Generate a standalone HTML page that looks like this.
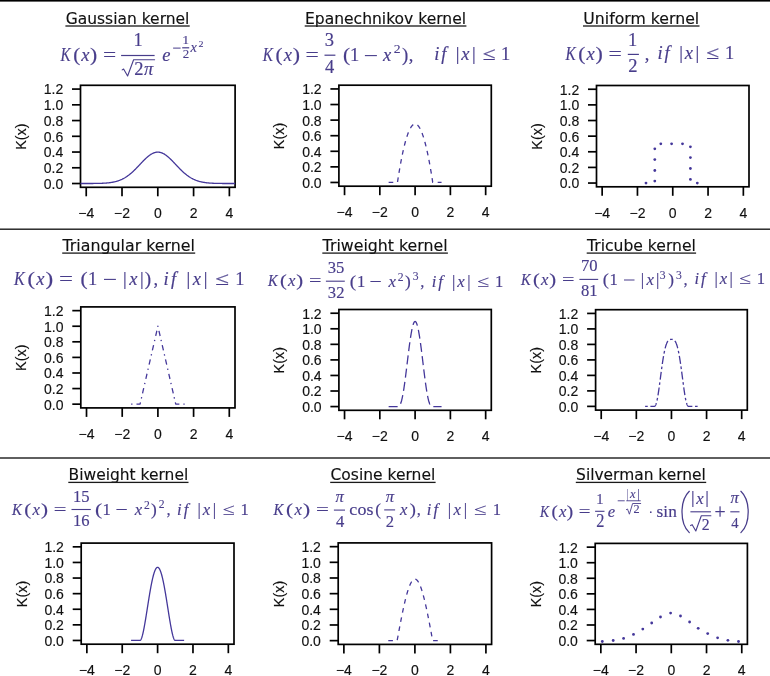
<!DOCTYPE html>
<html><head><meta charset="utf-8"><style>
html,body{margin:0;padding:0;background:#fff;}
body{width:770px;height:676px;overflow:hidden;position:relative;}
.tl{font-family:"Liberation Sans",Arial,sans-serif;font-size:14px;fill:#111;stroke:#111;stroke-width:0.15px;}
.yl{font-size:14.4px;}
.tt{font-family:"DejaVu Sans","Liberation Sans",sans-serif;font-size:16.2px;fill:#111;stroke:#111;stroke-width:0.15px;}
</style></head><body>
<svg width="770" height="676" viewBox="0 0 770 676" style="position:absolute;left:0;top:0">
<defs>
<clipPath id="c0"><rect x="80.50" y="85.30" width="154.60" height="102.00"/></clipPath>
<clipPath id="c1"><rect x="338.90" y="85.20" width="152.40" height="101.00"/></clipPath>
<clipPath id="c2"><rect x="596.50" y="85.50" width="152.50" height="101.30"/></clipPath>
<clipPath id="c3"><rect x="80.80" y="306.90" width="154.20" height="101.00"/></clipPath>
<clipPath id="c4"><rect x="338.90" y="309.50" width="152.40" height="100.80"/></clipPath>
<clipPath id="c5"><rect x="595.60" y="309.70" width="151.70" height="100.40"/></clipPath>
<clipPath id="c6"><rect x="81.20" y="543.10" width="152.80" height="101.10"/></clipPath>
<clipPath id="c7"><rect x="338.20" y="542.90" width="153.40" height="101.50"/></clipPath>
<clipPath id="c8"><rect x="595.20" y="543.40" width="152.20" height="100.90"/></clipPath>
</defs>
<rect x="0" y="0" width="770" height="1.6" fill="#000"/>
<rect x="0" y="228.5" width="770" height="1.4" fill="#1c1c1c"/>
<rect x="0" y="457.3" width="770" height="1.4" fill="#1c1c1c"/>
<g><rect x="80.50" y="85.30" width="154.60" height="102.00" fill="none" stroke="#000" stroke-width="1.7"/><line x1="72.00" y1="183.52" x2="80.50" y2="183.52" stroke="#000" stroke-width="1.7"/><text x="63.20" y="188.92" text-anchor="end" class="tl">0.0</text><line x1="72.00" y1="167.78" x2="80.50" y2="167.78" stroke="#000" stroke-width="1.7"/><text x="63.20" y="173.18" text-anchor="end" class="tl">0.2</text><line x1="72.00" y1="152.04" x2="80.50" y2="152.04" stroke="#000" stroke-width="1.7"/><text x="63.20" y="157.44" text-anchor="end" class="tl">0.4</text><line x1="72.00" y1="136.30" x2="80.50" y2="136.30" stroke="#000" stroke-width="1.7"/><text x="63.20" y="141.70" text-anchor="end" class="tl">0.6</text><line x1="72.00" y1="120.56" x2="80.50" y2="120.56" stroke="#000" stroke-width="1.7"/><text x="63.20" y="125.96" text-anchor="end" class="tl">0.8</text><line x1="72.00" y1="104.82" x2="80.50" y2="104.82" stroke="#000" stroke-width="1.7"/><text x="63.20" y="110.22" text-anchor="end" class="tl">1.0</text><line x1="72.00" y1="89.08" x2="80.50" y2="89.08" stroke="#000" stroke-width="1.7"/><text x="63.20" y="94.48" text-anchor="end" class="tl">1.2</text><line x1="86.23" y1="187.30" x2="86.23" y2="196.30" stroke="#000" stroke-width="1.7"/><text x="86.23" y="218.00" text-anchor="middle" class="tl">−4</text><line x1="122.01" y1="187.30" x2="122.01" y2="196.30" stroke="#000" stroke-width="1.7"/><text x="122.01" y="218.00" text-anchor="middle" class="tl">−2</text><line x1="157.80" y1="187.30" x2="157.80" y2="196.30" stroke="#000" stroke-width="1.7"/><text x="157.80" y="218.00" text-anchor="middle" class="tl">0</text><line x1="193.59" y1="187.30" x2="193.59" y2="196.30" stroke="#000" stroke-width="1.7"/><text x="193.59" y="218.00" text-anchor="middle" class="tl">2</text><line x1="229.37" y1="187.30" x2="229.37" y2="196.30" stroke="#000" stroke-width="1.7"/><text x="229.37" y="218.00" text-anchor="middle" class="tl">4</text><text transform="translate(26.00,136.60) rotate(-90)" text-anchor="middle" class="tl yl">K(x)</text><polyline clip-path="url(#c0)" points="75.49,183.52 75.90,183.52 76.31,183.52 76.72,183.52 77.14,183.52 77.55,183.52 77.96,183.52 78.37,183.52 78.78,183.52 79.19,183.52 79.61,183.52 80.02,183.52 80.43,183.52 80.84,183.52 81.25,183.52 81.66,183.52 82.07,183.52 82.49,183.52 82.90,183.52 83.31,183.52 83.72,183.52 84.13,183.52 84.54,183.52 84.96,183.51 85.37,183.51 85.78,183.51 86.19,183.51 86.60,183.51 87.01,183.51 87.42,183.51 87.84,183.51 88.25,183.51 88.66,183.50 89.07,183.50 89.48,183.50 89.89,183.50 90.31,183.50 90.72,183.49 91.13,183.49 91.54,183.49 91.95,183.49 92.36,183.48 92.77,183.48 93.19,183.48 93.60,183.47 94.01,183.47 94.42,183.46 94.83,183.46 95.24,183.45 95.66,183.45 96.07,183.44 96.48,183.43 96.89,183.43 97.30,183.42 97.71,183.41 98.13,183.40 98.54,183.39 98.95,183.38 99.36,183.37 99.77,183.36 100.18,183.35 100.59,183.33 101.01,183.32 101.42,183.30 101.83,183.29 102.24,183.27 102.65,183.25 103.06,183.23 103.48,183.21 103.89,183.19 104.30,183.16 104.71,183.14 105.12,183.11 105.53,183.08 105.94,183.05 106.36,183.02 106.77,182.98 107.18,182.95 107.59,182.91 108.00,182.87 108.41,182.83 108.83,182.78 109.24,182.73 109.65,182.68 110.06,182.63 110.47,182.57 110.88,182.51 111.29,182.45 111.71,182.38 112.12,182.32 112.53,182.24 112.94,182.17 113.35,182.09 113.76,182.00 114.18,181.91 114.59,181.82 115.00,181.73 115.41,181.62 115.82,181.52 116.23,181.41 116.64,181.29 117.06,181.17 117.47,181.05 117.88,180.92 118.29,180.78 118.70,180.64 119.11,180.49 119.53,180.34 119.94,180.18 120.35,180.01 120.76,179.84 121.17,179.66 121.58,179.47 122.00,179.28 122.41,179.08 122.82,178.88 123.23,178.67 123.64,178.45 124.05,178.22 124.46,177.99 124.88,177.74 125.29,177.50 125.70,177.24 126.11,176.98 126.52,176.71 126.93,176.43 127.35,176.15 127.76,175.85 128.17,175.55 128.58,175.25 128.99,174.93 129.40,174.61 129.81,174.28 130.23,173.94 130.64,173.60 131.05,173.25 131.46,172.90 131.87,172.53 132.28,172.16 132.70,171.79 133.11,171.41 133.52,171.02 133.93,170.63 134.34,170.23 134.75,169.82 135.16,169.42 135.58,169.00 135.99,168.59 136.40,168.17 136.81,167.74 137.22,167.31 137.63,166.88 138.05,166.45 138.46,166.02 138.87,165.58 139.28,165.14 139.69,164.71 140.10,164.27 140.51,163.83 140.93,163.39 141.34,162.96 141.75,162.52 142.16,162.09 142.57,161.66 142.98,161.24 143.40,160.81 143.81,160.40 144.22,159.98 144.63,159.57 145.04,159.17 145.45,158.78 145.87,158.39 146.28,158.00 146.69,157.63 147.10,157.26 147.51,156.91 147.92,156.56 148.33,156.22 148.75,155.90 149.16,155.58 149.57,155.28 149.98,154.98 150.39,154.70 150.80,154.43 151.22,154.18 151.63,153.94 152.04,153.71 152.45,153.50 152.86,153.30 153.27,153.11 153.68,152.94 154.10,152.79 154.51,152.65 154.92,152.53 155.33,152.42 155.74,152.33 156.15,152.26 156.57,152.20 156.98,152.16 157.39,152.13 157.80,152.12 158.21,152.13 158.62,152.16 159.03,152.20 159.45,152.26 159.86,152.33 160.27,152.42 160.68,152.53 161.09,152.65 161.50,152.79 161.92,152.94 162.33,153.11 162.74,153.30 163.15,153.50 163.56,153.71 163.97,153.94 164.38,154.18 164.80,154.43 165.21,154.70 165.62,154.98 166.03,155.28 166.44,155.58 166.85,155.90 167.27,156.22 167.68,156.56 168.09,156.91 168.50,157.26 168.91,157.63 169.32,158.00 169.73,158.39 170.15,158.78 170.56,159.17 170.97,159.57 171.38,159.98 171.79,160.40 172.20,160.81 172.62,161.24 173.03,161.66 173.44,162.09 173.85,162.52 174.26,162.96 174.67,163.39 175.09,163.83 175.50,164.27 175.91,164.71 176.32,165.14 176.73,165.58 177.14,166.02 177.55,166.45 177.97,166.88 178.38,167.31 178.79,167.74 179.20,168.17 179.61,168.59 180.02,169.00 180.44,169.42 180.85,169.82 181.26,170.23 181.67,170.63 182.08,171.02 182.49,171.41 182.90,171.79 183.32,172.16 183.73,172.53 184.14,172.90 184.55,173.25 184.96,173.60 185.37,173.94 185.79,174.28 186.20,174.61 186.61,174.93 187.02,175.25 187.43,175.55 187.84,175.85 188.25,176.15 188.67,176.43 189.08,176.71 189.49,176.98 189.90,177.24 190.31,177.50 190.72,177.74 191.14,177.99 191.55,178.22 191.96,178.45 192.37,178.67 192.78,178.88 193.19,179.08 193.60,179.28 194.02,179.47 194.43,179.66 194.84,179.84 195.25,180.01 195.66,180.18 196.07,180.34 196.49,180.49 196.90,180.64 197.31,180.78 197.72,180.92 198.13,181.05 198.54,181.17 198.96,181.29 199.37,181.41 199.78,181.52 200.19,181.62 200.60,181.73 201.01,181.82 201.42,181.91 201.84,182.00 202.25,182.09 202.66,182.17 203.07,182.24 203.48,182.32 203.89,182.38 204.31,182.45 204.72,182.51 205.13,182.57 205.54,182.63 205.95,182.68 206.36,182.73 206.77,182.78 207.19,182.83 207.60,182.87 208.01,182.91 208.42,182.95 208.83,182.98 209.24,183.02 209.66,183.05 210.07,183.08 210.48,183.11 210.89,183.14 211.30,183.16 211.71,183.19 212.12,183.21 212.54,183.23 212.95,183.25 213.36,183.27 213.77,183.29 214.18,183.30 214.59,183.32 215.01,183.33 215.42,183.35 215.83,183.36 216.24,183.37 216.65,183.38 217.06,183.39 217.47,183.40 217.89,183.41 218.30,183.42 218.71,183.43 219.12,183.43 219.53,183.44 219.94,183.45 220.36,183.45 220.77,183.46 221.18,183.46 221.59,183.47 222.00,183.47 222.41,183.48 222.83,183.48 223.24,183.48 223.65,183.49 224.06,183.49 224.47,183.49 224.88,183.49 225.29,183.50 225.71,183.50 226.12,183.50 226.53,183.50 226.94,183.50 227.35,183.51 227.76,183.51 228.18,183.51 228.59,183.51 229.00,183.51 229.41,183.51 229.82,183.51 230.23,183.51 230.64,183.51 231.06,183.52 231.47,183.52 231.88,183.52 232.29,183.52 232.70,183.52 233.11,183.52 233.53,183.52 233.94,183.52 234.35,183.52 234.76,183.52 235.17,183.52 235.58,183.52 235.99,183.52 236.41,183.52 236.82,183.52 237.23,183.52 237.64,183.52 238.05,183.52 238.46,183.52 238.88,183.52 239.29,183.52 239.70,183.52 240.11,183.52" fill="none" stroke="#44379A" stroke-width="1.3" stroke-linejoin="round"/></g>
<g><rect x="338.90" y="85.20" width="152.40" height="101.00" fill="none" stroke="#000" stroke-width="1.7"/><line x1="330.40" y1="182.46" x2="338.90" y2="182.46" stroke="#000" stroke-width="1.7"/><text x="321.60" y="187.86" text-anchor="end" class="tl">0.0</text><line x1="330.40" y1="166.87" x2="338.90" y2="166.87" stroke="#000" stroke-width="1.7"/><text x="321.60" y="172.27" text-anchor="end" class="tl">0.2</text><line x1="330.40" y1="151.29" x2="338.90" y2="151.29" stroke="#000" stroke-width="1.7"/><text x="321.60" y="156.69" text-anchor="end" class="tl">0.4</text><line x1="330.40" y1="135.70" x2="338.90" y2="135.70" stroke="#000" stroke-width="1.7"/><text x="321.60" y="141.10" text-anchor="end" class="tl">0.6</text><line x1="330.40" y1="120.11" x2="338.90" y2="120.11" stroke="#000" stroke-width="1.7"/><text x="321.60" y="125.51" text-anchor="end" class="tl">0.8</text><line x1="330.40" y1="104.53" x2="338.90" y2="104.53" stroke="#000" stroke-width="1.7"/><text x="321.60" y="109.93" text-anchor="end" class="tl">1.0</text><line x1="330.40" y1="88.94" x2="338.90" y2="88.94" stroke="#000" stroke-width="1.7"/><text x="321.60" y="94.34" text-anchor="end" class="tl">1.2</text><line x1="344.54" y1="186.20" x2="344.54" y2="195.20" stroke="#000" stroke-width="1.7"/><text x="344.54" y="216.90" text-anchor="middle" class="tl">−4</text><line x1="379.82" y1="186.20" x2="379.82" y2="195.20" stroke="#000" stroke-width="1.7"/><text x="379.82" y="216.90" text-anchor="middle" class="tl">−2</text><line x1="415.10" y1="186.20" x2="415.10" y2="195.20" stroke="#000" stroke-width="1.7"/><text x="415.10" y="216.90" text-anchor="middle" class="tl">0</text><line x1="450.38" y1="186.20" x2="450.38" y2="195.20" stroke="#000" stroke-width="1.7"/><text x="450.38" y="216.90" text-anchor="middle" class="tl">2</text><line x1="485.66" y1="186.20" x2="485.66" y2="195.20" stroke="#000" stroke-width="1.7"/><text x="485.66" y="216.90" text-anchor="middle" class="tl">4</text><text transform="translate(284.40,136.00) rotate(-90)" text-anchor="middle" class="tl yl">K(x)</text><polyline clip-path="url(#c1)" points="388.64,182.46 388.77,182.46 388.91,182.46 389.04,182.46 389.17,182.46 389.30,182.46 389.44,182.46 389.57,182.46 389.70,182.46 389.83,182.46 389.96,182.46 390.10,182.46 390.23,182.46 390.36,182.46 390.49,182.46 390.63,182.46 390.76,182.46 390.89,182.46 391.02,182.46 391.16,182.46 391.29,182.46 391.42,182.46 391.55,182.46 391.68,182.46 391.82,182.46 391.95,182.46 392.08,182.46 392.21,182.46 392.35,182.46 392.48,182.46 392.61,182.46 392.74,182.46 392.88,182.46 393.01,182.46 393.14,182.46 393.27,182.46 393.40,182.46 393.54,182.46 393.67,182.46 393.80,182.46 393.93,182.46 394.07,182.46 394.20,182.46 394.33,182.46 394.46,182.46 394.59,182.46 394.73,182.46 394.86,182.46 394.99,182.46 395.12,182.46 395.26,182.46 395.39,182.46 395.52,182.46 395.65,182.46 395.79,182.46 395.92,182.46 396.05,182.46 396.18,182.46 396.31,182.46 396.45,182.46 396.58,182.46 396.71,182.46 396.84,182.46 396.98,182.46 397.11,182.46 397.24,182.46 397.37,182.46 397.51,182.17 397.64,181.30 397.77,180.43 397.90,179.57 398.03,178.72 398.17,177.88 398.30,177.04 398.43,176.21 398.56,175.38 398.70,174.56 398.83,173.75 398.96,172.95 399.09,172.15 399.23,171.35 399.36,170.57 399.49,169.79 399.62,169.02 399.75,168.25 399.89,167.49 400.02,166.74 400.15,165.99 400.28,165.25 400.42,164.52 400.55,163.79 400.68,163.07 400.81,162.36 400.94,161.65 401.08,160.95 401.21,160.26 401.34,159.57 401.47,158.89 401.61,158.22 401.74,157.55 401.87,156.89 402.00,156.23 402.14,155.59 402.27,154.94 402.40,154.31 402.53,153.68 402.66,153.06 402.80,152.45 402.93,151.84 403.06,151.24 403.19,150.64 403.33,150.05 403.46,149.47 403.59,148.90 403.72,148.33 403.86,147.76 403.99,147.21 404.12,146.66 404.25,146.12 404.38,145.58 404.52,145.05 404.65,144.53 404.78,144.01 404.91,143.50 405.05,143.00 405.18,142.50 405.31,142.01 405.44,141.53 405.57,141.05 405.71,140.58 405.84,140.12 405.97,139.66 406.10,139.21 406.24,138.77 406.37,138.33 406.50,137.90 406.63,137.48 406.77,137.06 406.90,136.65 407.03,136.24 407.16,135.85 407.29,135.45 407.43,135.07 407.56,134.69 407.69,134.32 407.82,133.96 407.96,133.60 408.09,133.25 408.22,132.90 408.35,132.56 408.49,132.23 408.62,131.90 408.75,131.59 408.88,131.27 409.01,130.97 409.15,130.67 409.28,130.38 409.41,130.09 409.54,129.81 409.68,129.54 409.81,129.27 409.94,129.01 410.07,128.76 410.21,128.51 410.34,128.27 410.47,128.04 410.60,127.81 410.73,127.59 410.87,127.38 411.00,127.17 411.13,126.97 411.26,126.78 411.40,126.59 411.53,126.41 411.66,126.23 411.79,126.07 411.93,125.90 412.06,125.75 412.19,125.60 412.32,125.46 412.45,125.33 412.59,125.20 412.72,125.08 412.85,124.96 412.98,124.85 413.12,124.75 413.25,124.65 413.38,124.57 413.51,124.48 413.64,124.41 413.78,124.34 413.91,124.28 414.04,124.22 414.17,124.17 414.31,124.13 414.44,124.09 414.57,124.06 414.70,124.04 414.84,124.02 414.97,124.01 415.10,124.01 415.23,124.01 415.36,124.02 415.50,124.04 415.63,124.06 415.76,124.09 415.89,124.13 416.03,124.17 416.16,124.22 416.29,124.28 416.42,124.34 416.56,124.41 416.69,124.48 416.82,124.57 416.95,124.65 417.08,124.75 417.22,124.85 417.35,124.96 417.48,125.08 417.61,125.20 417.75,125.33 417.88,125.46 418.01,125.60 418.14,125.75 418.27,125.90 418.41,126.07 418.54,126.23 418.67,126.41 418.80,126.59 418.94,126.78 419.07,126.97 419.20,127.17 419.33,127.38 419.47,127.59 419.60,127.81 419.73,128.04 419.86,128.27 419.99,128.51 420.13,128.76 420.26,129.01 420.39,129.27 420.52,129.54 420.66,129.81 420.79,130.09 420.92,130.38 421.05,130.67 421.19,130.97 421.32,131.27 421.45,131.59 421.58,131.90 421.71,132.23 421.85,132.56 421.98,132.90 422.11,133.25 422.24,133.60 422.38,133.96 422.51,134.32 422.64,134.69 422.77,135.07 422.91,135.45 423.04,135.85 423.17,136.24 423.30,136.65 423.43,137.06 423.57,137.48 423.70,137.90 423.83,138.33 423.96,138.77 424.10,139.21 424.23,139.66 424.36,140.12 424.49,140.58 424.62,141.05 424.76,141.53 424.89,142.01 425.02,142.50 425.15,143.00 425.29,143.50 425.42,144.01 425.55,144.53 425.68,145.05 425.82,145.58 425.95,146.12 426.08,146.66 426.21,147.21 426.34,147.76 426.48,148.33 426.61,148.90 426.74,149.47 426.87,150.05 427.01,150.64 427.14,151.24 427.27,151.84 427.40,152.45 427.54,153.06 427.67,153.68 427.80,154.31 427.93,154.94 428.06,155.59 428.20,156.23 428.33,156.89 428.46,157.55 428.59,158.22 428.73,158.89 428.86,159.57 428.99,160.26 429.12,160.95 429.26,161.65 429.39,162.36 429.52,163.07 429.65,163.79 429.78,164.52 429.92,165.25 430.05,165.99 430.18,166.74 430.31,167.49 430.45,168.25 430.58,169.02 430.71,169.79 430.84,170.57 430.98,171.35 431.11,172.15 431.24,172.95 431.37,173.75 431.50,174.56 431.64,175.38 431.77,176.21 431.90,177.04 432.03,177.88 432.17,178.72 432.30,179.57 432.43,180.43 432.56,181.30 432.69,182.17 432.83,182.46 432.96,182.46 433.09,182.46 433.22,182.46 433.36,182.46 433.49,182.46 433.62,182.46 433.75,182.46 433.89,182.46 434.02,182.46 434.15,182.46 434.28,182.46 434.41,182.46 434.55,182.46 434.68,182.46 434.81,182.46 434.94,182.46 435.08,182.46 435.21,182.46 435.34,182.46 435.47,182.46 435.61,182.46 435.74,182.46 435.87,182.46 436.00,182.46 436.13,182.46 436.27,182.46 436.40,182.46 436.53,182.46 436.66,182.46 436.80,182.46 436.93,182.46 437.06,182.46 437.19,182.46 437.32,182.46 437.46,182.46 437.59,182.46 437.72,182.46 437.85,182.46 437.99,182.46 438.12,182.46 438.25,182.46 438.38,182.46 438.52,182.46 438.65,182.46 438.78,182.46 438.91,182.46 439.04,182.46 439.18,182.46 439.31,182.46 439.44,182.46 439.57,182.46 439.71,182.46 439.84,182.46 439.97,182.46 440.10,182.46 440.24,182.46 440.37,182.46 440.50,182.46 440.63,182.46 440.76,182.46 440.90,182.46 441.03,182.46 441.16,182.46 441.29,182.46 441.43,182.46 441.56,182.46" fill="none" stroke="#44379A" stroke-width="1.3" stroke-linejoin="round" stroke-dasharray="4.62 4.63"/></g>
<g><rect x="596.50" y="85.50" width="152.50" height="101.30" fill="none" stroke="#000" stroke-width="1.7"/><line x1="588.00" y1="183.05" x2="596.50" y2="183.05" stroke="#000" stroke-width="1.7"/><text x="579.20" y="188.45" text-anchor="end" class="tl">0.0</text><line x1="588.00" y1="167.42" x2="596.50" y2="167.42" stroke="#000" stroke-width="1.7"/><text x="579.20" y="172.82" text-anchor="end" class="tl">0.2</text><line x1="588.00" y1="151.78" x2="596.50" y2="151.78" stroke="#000" stroke-width="1.7"/><text x="579.20" y="157.18" text-anchor="end" class="tl">0.4</text><line x1="588.00" y1="136.15" x2="596.50" y2="136.15" stroke="#000" stroke-width="1.7"/><text x="579.20" y="141.55" text-anchor="end" class="tl">0.6</text><line x1="588.00" y1="120.52" x2="596.50" y2="120.52" stroke="#000" stroke-width="1.7"/><text x="579.20" y="125.92" text-anchor="end" class="tl">0.8</text><line x1="588.00" y1="104.88" x2="596.50" y2="104.88" stroke="#000" stroke-width="1.7"/><text x="579.20" y="110.28" text-anchor="end" class="tl">1.0</text><line x1="588.00" y1="89.25" x2="596.50" y2="89.25" stroke="#000" stroke-width="1.7"/><text x="579.20" y="94.65" text-anchor="end" class="tl">1.2</text><line x1="602.15" y1="186.80" x2="602.15" y2="195.80" stroke="#000" stroke-width="1.7"/><text x="602.15" y="217.50" text-anchor="middle" class="tl">−4</text><line x1="637.45" y1="186.80" x2="637.45" y2="195.80" stroke="#000" stroke-width="1.7"/><text x="637.45" y="217.50" text-anchor="middle" class="tl">−2</text><line x1="672.75" y1="186.80" x2="672.75" y2="195.80" stroke="#000" stroke-width="1.7"/><text x="672.75" y="217.50" text-anchor="middle" class="tl">0</text><line x1="708.05" y1="186.80" x2="708.05" y2="195.80" stroke="#000" stroke-width="1.7"/><text x="708.05" y="217.50" text-anchor="middle" class="tl">2</text><line x1="743.35" y1="186.80" x2="743.35" y2="195.80" stroke="#000" stroke-width="1.7"/><text x="743.35" y="217.50" text-anchor="middle" class="tl">4</text><text transform="translate(542.00,136.45) rotate(-90)" text-anchor="middle" class="tl yl">K(x)</text><circle cx="646.0" cy="183.1" r="1.4" fill="#44379A"/><circle cx="654.8" cy="181.1" r="1.4" fill="#44379A"/><circle cx="654.8" cy="170.5" r="1.4" fill="#44379A"/><circle cx="654.8" cy="159.6" r="1.4" fill="#44379A"/><circle cx="654.8" cy="148.8" r="1.4" fill="#44379A"/><circle cx="660.8" cy="143.8" r="1.4" fill="#44379A"/><circle cx="671.6" cy="143.8" r="1.4" fill="#44379A"/><circle cx="682.5" cy="143.8" r="1.4" fill="#44379A"/><circle cx="690.4" cy="146.8" r="1.4" fill="#44379A"/><circle cx="690.4" cy="157.6" r="1.4" fill="#44379A"/><circle cx="690.4" cy="168.5" r="1.4" fill="#44379A"/><circle cx="690.4" cy="179.4" r="1.4" fill="#44379A"/><circle cx="697.3" cy="183.1" r="1.4" fill="#44379A"/></g>
<g><rect x="80.80" y="306.90" width="154.20" height="101.00" fill="none" stroke="#000" stroke-width="1.7"/><line x1="72.30" y1="404.16" x2="80.80" y2="404.16" stroke="#000" stroke-width="1.7"/><text x="63.50" y="409.56" text-anchor="end" class="tl">0.0</text><line x1="72.30" y1="388.57" x2="80.80" y2="388.57" stroke="#000" stroke-width="1.7"/><text x="63.50" y="393.97" text-anchor="end" class="tl">0.2</text><line x1="72.30" y1="372.99" x2="80.80" y2="372.99" stroke="#000" stroke-width="1.7"/><text x="63.50" y="378.39" text-anchor="end" class="tl">0.4</text><line x1="72.30" y1="357.40" x2="80.80" y2="357.40" stroke="#000" stroke-width="1.7"/><text x="63.50" y="362.80" text-anchor="end" class="tl">0.6</text><line x1="72.30" y1="341.81" x2="80.80" y2="341.81" stroke="#000" stroke-width="1.7"/><text x="63.50" y="347.21" text-anchor="end" class="tl">0.8</text><line x1="72.30" y1="326.23" x2="80.80" y2="326.23" stroke="#000" stroke-width="1.7"/><text x="63.50" y="331.63" text-anchor="end" class="tl">1.0</text><line x1="72.30" y1="310.64" x2="80.80" y2="310.64" stroke="#000" stroke-width="1.7"/><text x="63.50" y="316.04" text-anchor="end" class="tl">1.2</text><line x1="86.51" y1="407.90" x2="86.51" y2="416.90" stroke="#000" stroke-width="1.7"/><text x="86.51" y="438.60" text-anchor="middle" class="tl">−4</text><line x1="122.21" y1="407.90" x2="122.21" y2="416.90" stroke="#000" stroke-width="1.7"/><text x="122.21" y="438.60" text-anchor="middle" class="tl">−2</text><line x1="157.90" y1="407.90" x2="157.90" y2="416.90" stroke="#000" stroke-width="1.7"/><text x="157.90" y="438.60" text-anchor="middle" class="tl">0</text><line x1="193.59" y1="407.90" x2="193.59" y2="416.90" stroke="#000" stroke-width="1.7"/><text x="193.59" y="438.60" text-anchor="middle" class="tl">2</text><line x1="229.29" y1="407.90" x2="229.29" y2="416.90" stroke="#000" stroke-width="1.7"/><text x="229.29" y="438.60" text-anchor="middle" class="tl">4</text><text transform="translate(26.30,357.70) rotate(-90)" text-anchor="middle" class="tl yl">K(x)</text><polyline clip-path="url(#c3)" points="131.13,404.16 131.26,404.16 131.40,404.16 131.53,404.16 131.66,404.16 131.80,404.16 131.93,404.16 132.07,404.16 132.20,404.16 132.33,404.16 132.47,404.16 132.60,404.16 132.74,404.16 132.87,404.16 133.00,404.16 133.14,404.16 133.27,404.16 133.40,404.16 133.54,404.16 133.67,404.16 133.81,404.16 133.94,404.16 134.07,404.16 134.21,404.16 134.34,404.16 134.48,404.16 134.61,404.16 134.74,404.16 134.88,404.16 135.01,404.16 135.14,404.16 135.28,404.16 135.41,404.16 135.55,404.16 135.68,404.16 135.81,404.16 135.95,404.16 136.08,404.16 136.22,404.16 136.35,404.16 136.48,404.16 136.62,404.16 136.75,404.16 136.88,404.16 137.02,404.16 137.15,404.16 137.29,404.16 137.42,404.16 137.55,404.16 137.69,404.16 137.82,404.16 137.96,404.16 138.09,404.16 138.22,404.16 138.36,404.16 138.49,404.16 138.62,404.16 138.76,404.16 138.89,404.16 139.03,404.16 139.16,404.16 139.29,404.16 139.43,404.16 139.56,404.16 139.70,404.16 139.83,404.16 139.96,404.16 140.10,403.96 140.23,403.38 140.37,402.80 140.50,402.21 140.63,401.63 140.77,401.04 140.90,400.46 141.03,399.87 141.17,399.29 141.30,398.70 141.44,398.12 141.57,397.54 141.70,396.95 141.84,396.37 141.97,395.78 142.11,395.20 142.24,394.61 142.37,394.03 142.51,393.44 142.64,392.86 142.77,392.27 142.91,391.69 143.04,391.11 143.18,390.52 143.31,389.94 143.44,389.35 143.58,388.77 143.71,388.18 143.85,387.60 143.98,387.01 144.11,386.43 144.25,385.85 144.38,385.26 144.51,384.68 144.65,384.09 144.78,383.51 144.92,382.92 145.05,382.34 145.18,381.75 145.32,381.17 145.45,380.58 145.59,380.00 145.72,379.42 145.85,378.83 145.99,378.25 146.12,377.66 146.25,377.08 146.39,376.49 146.52,375.91 146.66,375.32 146.79,374.74 146.92,374.16 147.06,373.57 147.19,372.99 147.33,372.40 147.46,371.82 147.59,371.23 147.73,370.65 147.86,370.06 147.99,369.48 148.13,368.89 148.26,368.31 148.40,367.73 148.53,367.14 148.66,366.56 148.80,365.97 148.93,365.39 149.07,364.80 149.20,364.22 149.33,363.63 149.47,363.05 149.60,362.47 149.73,361.88 149.87,361.30 150.00,360.71 150.14,360.13 150.27,359.54 150.40,358.96 150.54,358.37 150.67,357.79 150.81,357.21 150.94,356.62 151.07,356.04 151.21,355.45 151.34,354.87 151.47,354.28 151.61,353.70 151.74,353.11 151.88,352.53 152.01,351.94 152.14,351.36 152.28,350.78 152.41,350.19 152.55,349.61 152.68,349.02 152.81,348.44 152.95,347.85 153.08,347.27 153.22,346.68 153.35,346.10 153.48,345.52 153.62,344.93 153.75,344.35 153.88,343.76 154.02,343.18 154.15,342.59 154.29,342.01 154.42,341.42 154.55,340.84 154.69,340.25 154.82,339.67 154.96,339.09 155.09,338.50 155.22,337.92 155.36,337.33 155.49,336.75 155.62,336.16 155.76,335.58 155.89,334.99 156.03,334.41 156.16,333.83 156.29,333.24 156.43,332.66 156.56,332.07 156.70,331.49 156.83,330.90 156.96,330.32 157.10,329.73 157.23,329.15 157.36,328.57 157.50,327.98 157.63,327.40 157.77,326.81 157.90,326.23 158.03,326.81 158.17,327.40 158.30,327.98 158.44,328.57 158.57,329.15 158.70,329.73 158.84,330.32 158.97,330.90 159.10,331.49 159.24,332.07 159.37,332.66 159.51,333.24 159.64,333.83 159.77,334.41 159.91,334.99 160.04,335.58 160.18,336.16 160.31,336.75 160.44,337.33 160.58,337.92 160.71,338.50 160.84,339.09 160.98,339.67 161.11,340.25 161.25,340.84 161.38,341.42 161.51,342.01 161.65,342.59 161.78,343.18 161.92,343.76 162.05,344.35 162.18,344.93 162.32,345.52 162.45,346.10 162.58,346.68 162.72,347.27 162.85,347.85 162.99,348.44 163.12,349.02 163.25,349.61 163.39,350.19 163.52,350.78 163.66,351.36 163.79,351.94 163.92,352.53 164.06,353.11 164.19,353.70 164.32,354.28 164.46,354.87 164.59,355.45 164.73,356.04 164.86,356.62 164.99,357.21 165.13,357.79 165.26,358.37 165.40,358.96 165.53,359.54 165.66,360.13 165.80,360.71 165.93,361.30 166.07,361.88 166.20,362.47 166.33,363.05 166.47,363.63 166.60,364.22 166.73,364.80 166.87,365.39 167.00,365.97 167.14,366.56 167.27,367.14 167.40,367.73 167.54,368.31 167.67,368.89 167.81,369.48 167.94,370.06 168.07,370.65 168.21,371.23 168.34,371.82 168.47,372.40 168.61,372.99 168.74,373.57 168.88,374.16 169.01,374.74 169.14,375.32 169.28,375.91 169.41,376.49 169.55,377.08 169.68,377.66 169.81,378.25 169.95,378.83 170.08,379.42 170.21,380.00 170.35,380.58 170.48,381.17 170.62,381.75 170.75,382.34 170.88,382.92 171.02,383.51 171.15,384.09 171.29,384.68 171.42,385.26 171.55,385.85 171.69,386.43 171.82,387.01 171.95,387.60 172.09,388.18 172.22,388.77 172.36,389.35 172.49,389.94 172.62,390.52 172.76,391.11 172.89,391.69 173.03,392.27 173.16,392.86 173.29,393.44 173.43,394.03 173.56,394.61 173.69,395.20 173.83,395.78 173.96,396.37 174.10,396.95 174.23,397.54 174.36,398.12 174.50,398.70 174.63,399.29 174.77,399.87 174.90,400.46 175.03,401.04 175.17,401.63 175.30,402.21 175.43,402.80 175.57,403.38 175.70,403.96 175.84,404.16 175.97,404.16 176.10,404.16 176.24,404.16 176.37,404.16 176.51,404.16 176.64,404.16 176.77,404.16 176.91,404.16 177.04,404.16 177.18,404.16 177.31,404.16 177.44,404.16 177.58,404.16 177.71,404.16 177.84,404.16 177.98,404.16 178.11,404.16 178.25,404.16 178.38,404.16 178.51,404.16 178.65,404.16 178.78,404.16 178.92,404.16 179.05,404.16 179.18,404.16 179.32,404.16 179.45,404.16 179.58,404.16 179.72,404.16 179.85,404.16 179.99,404.16 180.12,404.16 180.25,404.16 180.39,404.16 180.52,404.16 180.66,404.16 180.79,404.16 180.92,404.16 181.06,404.16 181.19,404.16 181.32,404.16 181.46,404.16 181.59,404.16 181.73,404.16 181.86,404.16 181.99,404.16 182.13,404.16 182.26,404.16 182.40,404.16 182.53,404.16 182.66,404.16 182.80,404.16 182.93,404.16 183.06,404.16 183.20,404.16 183.33,404.16 183.47,404.16 183.60,404.16 183.73,404.16 183.87,404.16 184.00,404.16 184.14,404.16 184.27,404.16 184.40,404.16 184.54,404.16 184.67,404.16" fill="none" stroke="#44379A" stroke-width="1.3" stroke-linejoin="round" stroke-dasharray="1.336 4.008 5.344 4.008"/></g>
<g><rect x="338.90" y="309.50" width="152.40" height="100.80" fill="none" stroke="#000" stroke-width="1.7"/><line x1="330.40" y1="406.57" x2="338.90" y2="406.57" stroke="#000" stroke-width="1.7"/><text x="321.60" y="411.97" text-anchor="end" class="tl">0.0</text><line x1="330.40" y1="391.01" x2="338.90" y2="391.01" stroke="#000" stroke-width="1.7"/><text x="321.60" y="396.41" text-anchor="end" class="tl">0.2</text><line x1="330.40" y1="375.46" x2="338.90" y2="375.46" stroke="#000" stroke-width="1.7"/><text x="321.60" y="380.86" text-anchor="end" class="tl">0.4</text><line x1="330.40" y1="359.90" x2="338.90" y2="359.90" stroke="#000" stroke-width="1.7"/><text x="321.60" y="365.30" text-anchor="end" class="tl">0.6</text><line x1="330.40" y1="344.34" x2="338.90" y2="344.34" stroke="#000" stroke-width="1.7"/><text x="321.60" y="349.74" text-anchor="end" class="tl">0.8</text><line x1="330.40" y1="328.79" x2="338.90" y2="328.79" stroke="#000" stroke-width="1.7"/><text x="321.60" y="334.19" text-anchor="end" class="tl">1.0</text><line x1="330.40" y1="313.23" x2="338.90" y2="313.23" stroke="#000" stroke-width="1.7"/><text x="321.60" y="318.63" text-anchor="end" class="tl">1.2</text><line x1="344.54" y1="410.30" x2="344.54" y2="419.30" stroke="#000" stroke-width="1.7"/><text x="344.54" y="441.00" text-anchor="middle" class="tl">−4</text><line x1="379.82" y1="410.30" x2="379.82" y2="419.30" stroke="#000" stroke-width="1.7"/><text x="379.82" y="441.00" text-anchor="middle" class="tl">−2</text><line x1="415.10" y1="410.30" x2="415.10" y2="419.30" stroke="#000" stroke-width="1.7"/><text x="415.10" y="441.00" text-anchor="middle" class="tl">0</text><line x1="450.38" y1="410.30" x2="450.38" y2="419.30" stroke="#000" stroke-width="1.7"/><text x="450.38" y="441.00" text-anchor="middle" class="tl">2</text><line x1="485.66" y1="410.30" x2="485.66" y2="419.30" stroke="#000" stroke-width="1.7"/><text x="485.66" y="441.00" text-anchor="middle" class="tl">4</text><text transform="translate(284.40,360.20) rotate(-90)" text-anchor="middle" class="tl yl">K(x)</text><polyline clip-path="url(#c4)" points="388.64,406.57 388.77,406.57 388.91,406.57 389.04,406.57 389.17,406.57 389.30,406.57 389.44,406.57 389.57,406.57 389.70,406.57 389.83,406.57 389.96,406.57 390.10,406.57 390.23,406.57 390.36,406.57 390.49,406.57 390.63,406.57 390.76,406.57 390.89,406.57 391.02,406.57 391.16,406.57 391.29,406.57 391.42,406.57 391.55,406.57 391.68,406.57 391.82,406.57 391.95,406.57 392.08,406.57 392.21,406.57 392.35,406.57 392.48,406.57 392.61,406.57 392.74,406.57 392.88,406.57 393.01,406.57 393.14,406.57 393.27,406.57 393.40,406.57 393.54,406.57 393.67,406.57 393.80,406.57 393.93,406.57 394.07,406.57 394.20,406.57 394.33,406.57 394.46,406.57 394.59,406.57 394.73,406.57 394.86,406.57 394.99,406.57 395.12,406.57 395.26,406.57 395.39,406.57 395.52,406.57 395.65,406.57 395.79,406.57 395.92,406.57 396.05,406.57 396.18,406.57 396.31,406.57 396.45,406.57 396.58,406.57 396.71,406.57 396.84,406.57 396.98,406.57 397.11,406.57 397.24,406.57 397.37,406.57 397.51,406.57 397.64,406.57 397.77,406.56 397.90,406.56 398.03,406.54 398.17,406.53 398.30,406.50 398.43,406.46 398.56,406.42 398.70,406.36 398.83,406.29 398.96,406.20 399.09,406.10 399.23,405.98 399.36,405.85 399.49,405.70 399.62,405.53 399.75,405.34 399.89,405.14 400.02,404.91 400.15,404.66 400.28,404.40 400.42,404.11 400.55,403.80 400.68,403.46 400.81,403.11 400.94,402.73 401.08,402.33 401.21,401.90 401.34,401.46 401.47,400.99 401.61,400.50 401.74,399.98 401.87,399.44 402.00,398.88 402.14,398.30 402.27,397.69 402.40,397.06 402.53,396.41 402.66,395.74 402.80,395.05 402.93,394.33 403.06,393.60 403.19,392.84 403.33,392.07 403.46,391.27 403.59,390.46 403.72,389.62 403.86,388.77 403.99,387.91 404.12,387.02 404.25,386.12 404.38,385.20 404.52,384.27 404.65,383.32 404.78,382.36 404.91,381.38 405.05,380.39 405.18,379.39 405.31,378.38 405.44,377.36 405.57,376.32 405.71,375.28 405.84,374.23 405.97,373.17 406.10,372.11 406.24,371.04 406.37,369.96 406.50,368.88 406.63,367.79 406.77,366.70 406.90,365.61 407.03,364.51 407.16,363.42 407.29,362.32 407.43,361.23 407.56,360.13 407.69,359.04 407.82,357.95 407.96,356.87 408.09,355.79 408.22,354.71 408.35,353.64 408.49,352.58 408.62,351.52 408.75,350.47 408.88,349.43 409.01,348.40 409.15,347.38 409.28,346.37 409.41,345.38 409.54,344.39 409.68,343.42 409.81,342.46 409.94,341.52 410.07,340.59 410.21,339.68 410.34,338.78 410.47,337.90 410.60,337.04 410.73,336.19 410.87,335.37 411.00,334.56 411.13,333.77 411.26,333.01 411.40,332.26 411.53,331.54 411.66,330.84 411.79,330.16 411.93,329.50 412.06,328.87 412.19,328.26 412.32,327.67 412.45,327.11 412.59,326.58 412.72,326.06 412.85,325.58 412.98,325.12 413.12,324.69 413.25,324.28 413.38,323.90 413.51,323.55 413.64,323.22 413.78,322.92 413.91,322.65 414.04,322.41 414.17,322.20 414.31,322.01 414.44,321.86 414.57,321.73 414.70,321.63 414.84,321.55 414.97,321.51 415.10,321.50 415.23,321.51 415.36,321.55 415.50,321.63 415.63,321.73 415.76,321.86 415.89,322.01 416.03,322.20 416.16,322.41 416.29,322.65 416.42,322.92 416.56,323.22 416.69,323.55 416.82,323.90 416.95,324.28 417.08,324.69 417.22,325.12 417.35,325.58 417.48,326.06 417.61,326.58 417.75,327.11 417.88,327.67 418.01,328.26 418.14,328.87 418.27,329.50 418.41,330.16 418.54,330.84 418.67,331.54 418.80,332.26 418.94,333.01 419.07,333.77 419.20,334.56 419.33,335.37 419.47,336.19 419.60,337.04 419.73,337.90 419.86,338.78 419.99,339.68 420.13,340.59 420.26,341.52 420.39,342.46 420.52,343.42 420.66,344.39 420.79,345.38 420.92,346.37 421.05,347.38 421.19,348.40 421.32,349.43 421.45,350.47 421.58,351.52 421.71,352.58 421.85,353.64 421.98,354.71 422.11,355.79 422.24,356.87 422.38,357.95 422.51,359.04 422.64,360.13 422.77,361.23 422.91,362.32 423.04,363.42 423.17,364.51 423.30,365.61 423.43,366.70 423.57,367.79 423.70,368.88 423.83,369.96 423.96,371.04 424.10,372.11 424.23,373.17 424.36,374.23 424.49,375.28 424.62,376.32 424.76,377.36 424.89,378.38 425.02,379.39 425.15,380.39 425.29,381.38 425.42,382.36 425.55,383.32 425.68,384.27 425.82,385.20 425.95,386.12 426.08,387.02 426.21,387.91 426.34,388.77 426.48,389.62 426.61,390.46 426.74,391.27 426.87,392.07 427.01,392.84 427.14,393.60 427.27,394.33 427.40,395.05 427.54,395.74 427.67,396.41 427.80,397.06 427.93,397.69 428.06,398.30 428.20,398.88 428.33,399.44 428.46,399.98 428.59,400.50 428.73,400.99 428.86,401.46 428.99,401.90 429.12,402.33 429.26,402.73 429.39,403.11 429.52,403.46 429.65,403.80 429.78,404.11 429.92,404.40 430.05,404.66 430.18,404.91 430.31,405.14 430.45,405.34 430.58,405.53 430.71,405.70 430.84,405.85 430.98,405.98 431.11,406.10 431.24,406.20 431.37,406.29 431.50,406.36 431.64,406.42 431.77,406.46 431.90,406.50 432.03,406.53 432.17,406.54 432.30,406.56 432.43,406.56 432.56,406.57 432.69,406.57 432.83,406.57 432.96,406.57 433.09,406.57 433.22,406.57 433.36,406.57 433.49,406.57 433.62,406.57 433.75,406.57 433.89,406.57 434.02,406.57 434.15,406.57 434.28,406.57 434.41,406.57 434.55,406.57 434.68,406.57 434.81,406.57 434.94,406.57 435.08,406.57 435.21,406.57 435.34,406.57 435.47,406.57 435.61,406.57 435.74,406.57 435.87,406.57 436.00,406.57 436.13,406.57 436.27,406.57 436.40,406.57 436.53,406.57 436.66,406.57 436.80,406.57 436.93,406.57 437.06,406.57 437.19,406.57 437.32,406.57 437.46,406.57 437.59,406.57 437.72,406.57 437.85,406.57 437.99,406.57 438.12,406.57 438.25,406.57 438.38,406.57 438.52,406.57 438.65,406.57 438.78,406.57 438.91,406.57 439.04,406.57 439.18,406.57 439.31,406.57 439.44,406.57 439.57,406.57 439.71,406.57 439.84,406.57 439.97,406.57 440.10,406.57 440.24,406.57 440.37,406.57 440.50,406.57 440.63,406.57 440.76,406.57 440.90,406.57 441.03,406.57 441.16,406.57 441.29,406.57 441.43,406.57 441.56,406.57" fill="none" stroke="#44379A" stroke-width="1.3" stroke-linejoin="round" stroke-dasharray="9.0 4.33"/></g>
<g><rect x="595.60" y="309.70" width="151.70" height="100.40" fill="none" stroke="#000" stroke-width="1.7"/><line x1="587.10" y1="406.38" x2="595.60" y2="406.38" stroke="#000" stroke-width="1.7"/><text x="578.30" y="411.78" text-anchor="end" class="tl">0.0</text><line x1="587.10" y1="390.89" x2="595.60" y2="390.89" stroke="#000" stroke-width="1.7"/><text x="578.30" y="396.29" text-anchor="end" class="tl">0.2</text><line x1="587.10" y1="375.39" x2="595.60" y2="375.39" stroke="#000" stroke-width="1.7"/><text x="578.30" y="380.79" text-anchor="end" class="tl">0.4</text><line x1="587.10" y1="359.90" x2="595.60" y2="359.90" stroke="#000" stroke-width="1.7"/><text x="578.30" y="365.30" text-anchor="end" class="tl">0.6</text><line x1="587.10" y1="344.41" x2="595.60" y2="344.41" stroke="#000" stroke-width="1.7"/><text x="578.30" y="349.81" text-anchor="end" class="tl">0.8</text><line x1="587.10" y1="328.91" x2="595.60" y2="328.91" stroke="#000" stroke-width="1.7"/><text x="578.30" y="334.31" text-anchor="end" class="tl">1.0</text><line x1="587.10" y1="313.42" x2="595.60" y2="313.42" stroke="#000" stroke-width="1.7"/><text x="578.30" y="318.82" text-anchor="end" class="tl">1.2</text><line x1="601.22" y1="410.10" x2="601.22" y2="419.10" stroke="#000" stroke-width="1.7"/><text x="601.22" y="440.80" text-anchor="middle" class="tl">−4</text><line x1="636.33" y1="410.10" x2="636.33" y2="419.10" stroke="#000" stroke-width="1.7"/><text x="636.33" y="440.80" text-anchor="middle" class="tl">−2</text><line x1="671.45" y1="410.10" x2="671.45" y2="419.10" stroke="#000" stroke-width="1.7"/><text x="671.45" y="440.80" text-anchor="middle" class="tl">0</text><line x1="706.57" y1="410.10" x2="706.57" y2="419.10" stroke="#000" stroke-width="1.7"/><text x="706.57" y="440.80" text-anchor="middle" class="tl">2</text><line x1="741.68" y1="410.10" x2="741.68" y2="419.10" stroke="#000" stroke-width="1.7"/><text x="741.68" y="440.80" text-anchor="middle" class="tl">4</text><text transform="translate(541.10,360.20) rotate(-90)" text-anchor="middle" class="tl yl">K(x)</text><polyline clip-path="url(#c5)" points="645.11,406.38 645.24,406.38 645.38,406.38 645.51,406.38 645.64,406.38 645.77,406.38 645.90,406.38 646.03,406.38 646.17,406.38 646.30,406.38 646.43,406.38 646.56,406.38 646.69,406.38 646.83,406.38 646.96,406.38 647.09,406.38 647.22,406.38 647.35,406.38 647.48,406.38 647.62,406.38 647.75,406.38 647.88,406.38 648.01,406.38 648.14,406.38 648.27,406.38 648.41,406.38 648.54,406.38 648.67,406.38 648.80,406.38 648.93,406.38 649.06,406.38 649.20,406.38 649.33,406.38 649.46,406.38 649.59,406.38 649.72,406.38 649.85,406.38 649.99,406.38 650.12,406.38 650.25,406.38 650.38,406.38 650.51,406.38 650.64,406.38 650.78,406.38 650.91,406.38 651.04,406.38 651.17,406.38 651.30,406.38 651.43,406.38 651.57,406.38 651.70,406.38 651.83,406.38 651.96,406.38 652.09,406.38 652.22,406.38 652.36,406.38 652.49,406.38 652.62,406.38 652.75,406.38 652.88,406.38 653.01,406.38 653.15,406.38 653.28,406.38 653.41,406.38 653.54,406.38 653.67,406.38 653.80,406.38 653.94,406.38 654.07,406.38 654.20,406.37 654.33,406.36 654.46,406.33 654.59,406.28 654.73,406.21 654.86,406.13 654.99,406.02 655.12,405.88 655.25,405.72 655.38,405.52 655.52,405.30 655.65,405.05 655.78,404.76 655.91,404.45 656.04,404.10 656.17,403.72 656.31,403.30 656.44,402.85 656.57,402.37 656.70,401.86 656.83,401.31 656.96,400.74 657.10,400.13 657.23,399.49 657.36,398.83 657.49,398.14 657.62,397.42 657.75,396.67 657.89,395.90 658.02,395.10 658.15,394.28 658.28,393.45 658.41,392.59 658.54,391.71 658.68,390.81 658.81,389.90 658.94,388.97 659.07,388.03 659.20,387.08 659.34,386.11 659.47,385.14 659.60,384.15 659.73,383.16 659.86,382.17 659.99,381.16 660.13,380.16 660.26,379.15 660.39,378.14 660.52,377.13 660.65,376.13 660.78,375.12 660.92,374.12 661.05,373.12 661.18,372.13 661.31,371.14 661.44,370.17 661.57,369.19 661.71,368.23 661.84,367.28 661.97,366.34 662.10,365.41 662.23,364.49 662.36,363.59 662.50,362.70 662.63,361.82 662.76,360.96 662.89,360.11 663.02,359.28 663.15,358.46 663.29,357.66 663.42,356.88 663.55,356.12 663.68,355.37 663.81,354.64 663.94,353.93 664.08,353.24 664.21,352.56 664.34,351.91 664.47,351.27 664.60,350.65 664.73,350.06 664.87,349.48 665.00,348.91 665.13,348.37 665.26,347.85 665.39,347.35 665.52,346.86 665.66,346.39 665.79,345.95 665.92,345.52 666.05,345.10 666.18,344.71 666.31,344.33 666.45,343.98 666.58,343.63 666.71,343.31 666.84,343.00 666.97,342.71 667.10,342.43 667.24,342.17 667.37,341.93 667.50,341.69 667.63,341.48 667.76,341.28 667.89,341.09 668.03,340.91 668.16,340.75 668.29,340.60 668.42,340.46 668.55,340.33 668.68,340.21 668.82,340.11 668.95,340.01 669.08,339.93 669.21,339.85 669.34,339.78 669.47,339.72 669.61,339.67 669.74,339.62 669.87,339.58 670.00,339.55 670.13,339.52 670.26,339.49 670.40,339.48 670.53,339.46 670.66,339.45 670.79,339.44 670.92,339.44 671.05,339.44 671.19,339.43 671.32,339.43 671.45,339.43 671.58,339.43 671.71,339.43 671.85,339.44 671.98,339.44 672.11,339.44 672.24,339.45 672.37,339.46 672.50,339.48 672.64,339.49 672.77,339.52 672.90,339.55 673.03,339.58 673.16,339.62 673.29,339.67 673.43,339.72 673.56,339.78 673.69,339.85 673.82,339.93 673.95,340.01 674.08,340.11 674.22,340.21 674.35,340.33 674.48,340.46 674.61,340.60 674.74,340.75 674.87,340.91 675.01,341.09 675.14,341.28 675.27,341.48 675.40,341.69 675.53,341.93 675.66,342.17 675.80,342.43 675.93,342.71 676.06,343.00 676.19,343.31 676.32,343.63 676.45,343.98 676.59,344.33 676.72,344.71 676.85,345.10 676.98,345.52 677.11,345.95 677.24,346.39 677.38,346.86 677.51,347.35 677.64,347.85 677.77,348.37 677.90,348.91 678.03,349.48 678.17,350.06 678.30,350.65 678.43,351.27 678.56,351.91 678.69,352.56 678.82,353.24 678.96,353.93 679.09,354.64 679.22,355.37 679.35,356.12 679.48,356.88 679.61,357.66 679.75,358.46 679.88,359.28 680.01,360.11 680.14,360.96 680.27,361.82 680.40,362.70 680.54,363.59 680.67,364.49 680.80,365.41 680.93,366.34 681.06,367.28 681.19,368.23 681.33,369.19 681.46,370.17 681.59,371.14 681.72,372.13 681.85,373.12 681.98,374.12 682.12,375.12 682.25,376.13 682.38,377.13 682.51,378.14 682.64,379.15 682.77,380.16 682.91,381.16 683.04,382.17 683.17,383.16 683.30,384.15 683.43,385.14 683.56,386.11 683.70,387.08 683.83,388.03 683.96,388.97 684.09,389.90 684.22,390.81 684.36,391.71 684.49,392.59 684.62,393.45 684.75,394.28 684.88,395.10 685.01,395.90 685.15,396.67 685.28,397.42 685.41,398.14 685.54,398.83 685.67,399.49 685.80,400.13 685.94,400.74 686.07,401.31 686.20,401.86 686.33,402.37 686.46,402.85 686.59,403.30 686.73,403.72 686.86,404.10 686.99,404.45 687.12,404.76 687.25,405.05 687.38,405.30 687.52,405.52 687.65,405.72 687.78,405.88 687.91,406.02 688.04,406.13 688.17,406.21 688.31,406.28 688.44,406.33 688.57,406.36 688.70,406.37 688.83,406.38 688.96,406.38 689.10,406.38 689.23,406.38 689.36,406.38 689.49,406.38 689.62,406.38 689.75,406.38 689.89,406.38 690.02,406.38 690.15,406.38 690.28,406.38 690.41,406.38 690.54,406.38 690.68,406.38 690.81,406.38 690.94,406.38 691.07,406.38 691.20,406.38 691.33,406.38 691.47,406.38 691.60,406.38 691.73,406.38 691.86,406.38 691.99,406.38 692.12,406.38 692.26,406.38 692.39,406.38 692.52,406.38 692.65,406.38 692.78,406.38 692.91,406.38 693.05,406.38 693.18,406.38 693.31,406.38 693.44,406.38 693.57,406.38 693.70,406.38 693.84,406.38 693.97,406.38 694.10,406.38 694.23,406.38 694.36,406.38 694.49,406.38 694.63,406.38 694.76,406.38 694.89,406.38 695.02,406.38 695.15,406.38 695.28,406.38 695.42,406.38 695.55,406.38 695.68,406.38 695.81,406.38 695.94,406.38 696.07,406.38 696.21,406.38 696.34,406.38 696.47,406.38 696.60,406.38 696.73,406.38 696.87,406.38 697.00,406.38 697.13,406.38 697.26,406.38 697.39,406.38 697.52,406.38 697.66,406.38 697.79,406.38" fill="none" stroke="#44379A" stroke-width="1.3" stroke-linejoin="round" stroke-dasharray="2.64 2.64 7.93 2.64"/></g>
<g><rect x="81.20" y="543.10" width="152.80" height="101.10" fill="none" stroke="#000" stroke-width="1.7"/><line x1="72.70" y1="640.46" x2="81.20" y2="640.46" stroke="#000" stroke-width="1.7"/><text x="63.90" y="645.86" text-anchor="end" class="tl">0.0</text><line x1="72.70" y1="624.85" x2="81.20" y2="624.85" stroke="#000" stroke-width="1.7"/><text x="63.90" y="630.25" text-anchor="end" class="tl">0.2</text><line x1="72.70" y1="609.25" x2="81.20" y2="609.25" stroke="#000" stroke-width="1.7"/><text x="63.90" y="614.65" text-anchor="end" class="tl">0.4</text><line x1="72.70" y1="593.65" x2="81.20" y2="593.65" stroke="#000" stroke-width="1.7"/><text x="63.90" y="599.05" text-anchor="end" class="tl">0.6</text><line x1="72.70" y1="578.05" x2="81.20" y2="578.05" stroke="#000" stroke-width="1.7"/><text x="63.90" y="583.45" text-anchor="end" class="tl">0.8</text><line x1="72.70" y1="562.45" x2="81.20" y2="562.45" stroke="#000" stroke-width="1.7"/><text x="63.90" y="567.85" text-anchor="end" class="tl">1.0</text><line x1="72.70" y1="546.84" x2="81.20" y2="546.84" stroke="#000" stroke-width="1.7"/><text x="63.90" y="552.24" text-anchor="end" class="tl">1.2</text><line x1="86.86" y1="644.20" x2="86.86" y2="653.20" stroke="#000" stroke-width="1.7"/><text x="86.86" y="674.90" text-anchor="middle" class="tl">−4</text><line x1="122.23" y1="644.20" x2="122.23" y2="653.20" stroke="#000" stroke-width="1.7"/><text x="122.23" y="674.90" text-anchor="middle" class="tl">−2</text><line x1="157.60" y1="644.20" x2="157.60" y2="653.20" stroke="#000" stroke-width="1.7"/><text x="157.60" y="674.90" text-anchor="middle" class="tl">0</text><line x1="192.97" y1="644.20" x2="192.97" y2="653.20" stroke="#000" stroke-width="1.7"/><text x="192.97" y="674.90" text-anchor="middle" class="tl">2</text><line x1="228.34" y1="644.20" x2="228.34" y2="653.20" stroke="#000" stroke-width="1.7"/><text x="228.34" y="674.90" text-anchor="middle" class="tl">4</text><text transform="translate(26.70,593.95) rotate(-90)" text-anchor="middle" class="tl yl">K(x)</text><polyline clip-path="url(#c6)" points="131.07,640.46 131.20,640.46 131.34,640.46 131.47,640.46 131.60,640.46 131.74,640.46 131.87,640.46 132.00,640.46 132.13,640.46 132.27,640.46 132.40,640.46 132.53,640.46 132.66,640.46 132.80,640.46 132.93,640.46 133.06,640.46 133.19,640.46 133.33,640.46 133.46,640.46 133.59,640.46 133.73,640.46 133.86,640.46 133.99,640.46 134.12,640.46 134.26,640.46 134.39,640.46 134.52,640.46 134.65,640.46 134.79,640.46 134.92,640.46 135.05,640.46 135.18,640.46 135.32,640.46 135.45,640.46 135.58,640.46 135.71,640.46 135.85,640.46 135.98,640.46 136.11,640.46 136.25,640.46 136.38,640.46 136.51,640.46 136.64,640.46 136.78,640.46 136.91,640.46 137.04,640.46 137.17,640.46 137.31,640.46 137.44,640.46 137.57,640.46 137.70,640.46 137.84,640.46 137.97,640.46 138.10,640.46 138.23,640.46 138.37,640.46 138.50,640.46 138.63,640.46 138.77,640.46 138.90,640.46 139.03,640.46 139.16,640.46 139.30,640.46 139.43,640.46 139.56,640.46 139.69,640.46 139.83,640.46 139.96,640.45 140.09,640.43 140.22,640.37 140.36,640.28 140.49,640.16 140.62,640.01 140.75,639.83 140.89,639.62 141.02,639.38 141.15,639.12 141.29,638.83 141.42,638.52 141.55,638.18 141.68,637.82 141.82,637.43 141.95,637.02 142.08,636.59 142.21,636.13 142.35,635.66 142.48,635.16 142.61,634.65 142.74,634.12 142.88,633.57 143.01,633.00 143.14,632.41 143.28,631.81 143.41,631.19 143.54,630.55 143.67,629.90 143.81,629.24 143.94,628.56 144.07,627.87 144.20,627.17 144.34,626.46 144.47,625.73 144.60,625.00 144.73,624.25 144.87,623.49 145.00,622.73 145.13,621.95 145.26,621.17 145.40,620.38 145.53,619.59 145.66,618.78 145.80,617.97 145.93,617.16 146.06,616.34 146.19,615.52 146.33,614.69 146.46,613.85 146.59,613.02 146.72,612.18 146.86,611.34 146.99,610.50 147.12,609.66 147.25,608.81 147.39,607.97 147.52,607.12 147.65,606.28 147.78,605.44 147.92,604.60 148.05,603.75 148.18,602.92 148.32,602.08 148.45,601.25 148.58,600.42 148.71,599.59 148.85,598.77 148.98,597.95 149.11,597.14 149.24,596.33 149.38,595.53 149.51,594.73 149.64,593.94 149.77,593.16 149.91,592.38 150.04,591.61 150.17,590.85 150.30,590.09 150.44,589.35 150.57,588.61 150.70,587.88 150.84,587.16 150.97,586.44 151.10,585.74 151.23,585.05 151.37,584.37 151.50,583.70 151.63,583.03 151.76,582.38 151.90,581.74 152.03,581.12 152.16,580.50 152.29,579.89 152.43,579.30 152.56,578.72 152.69,578.15 152.83,577.60 152.96,577.05 153.09,576.52 153.22,576.01 153.36,575.50 153.49,575.01 153.62,574.54 153.75,574.08 153.89,573.63 154.02,573.20 154.15,572.78 154.28,572.37 154.42,571.98 154.55,571.61 154.68,571.25 154.81,570.91 154.95,570.58 155.08,570.26 155.21,569.96 155.35,569.68 155.48,569.41 155.61,569.16 155.74,568.93 155.88,568.71 156.01,568.50 156.14,568.31 156.27,568.14 156.41,567.99 156.54,567.85 156.67,567.72 156.80,567.62 156.94,567.53 157.07,567.45 157.20,567.40 157.33,567.35 157.47,567.33 157.60,567.32 157.73,567.33 157.87,567.35 158.00,567.40 158.13,567.45 158.26,567.53 158.40,567.62 158.53,567.72 158.66,567.85 158.79,567.99 158.93,568.14 159.06,568.31 159.19,568.50 159.32,568.71 159.46,568.93 159.59,569.16 159.72,569.41 159.85,569.68 159.99,569.96 160.12,570.26 160.25,570.58 160.39,570.91 160.52,571.25 160.65,571.61 160.78,571.98 160.92,572.37 161.05,572.78 161.18,573.20 161.31,573.63 161.45,574.08 161.58,574.54 161.71,575.01 161.84,575.50 161.98,576.01 162.11,576.52 162.24,577.05 162.38,577.60 162.51,578.15 162.64,578.72 162.77,579.30 162.91,579.89 163.04,580.50 163.17,581.12 163.30,581.74 163.44,582.38 163.57,583.03 163.70,583.70 163.83,584.37 163.97,585.05 164.10,585.74 164.23,586.44 164.36,587.16 164.50,587.88 164.63,588.61 164.76,589.35 164.90,590.09 165.03,590.85 165.16,591.61 165.29,592.38 165.43,593.16 165.56,593.94 165.69,594.73 165.82,595.53 165.96,596.33 166.09,597.14 166.22,597.95 166.35,598.77 166.49,599.59 166.62,600.42 166.75,601.25 166.88,602.08 167.02,602.92 167.15,603.75 167.28,604.60 167.42,605.44 167.55,606.28 167.68,607.12 167.81,607.97 167.95,608.81 168.08,609.66 168.21,610.50 168.34,611.34 168.48,612.18 168.61,613.02 168.74,613.85 168.87,614.69 169.01,615.52 169.14,616.34 169.27,617.16 169.40,617.97 169.54,618.78 169.67,619.59 169.80,620.38 169.94,621.17 170.07,621.95 170.20,622.73 170.33,623.49 170.47,624.25 170.60,625.00 170.73,625.73 170.86,626.46 171.00,627.17 171.13,627.87 171.26,628.56 171.39,629.24 171.53,629.90 171.66,630.55 171.79,631.19 171.93,631.81 172.06,632.41 172.19,633.00 172.32,633.57 172.46,634.12 172.59,634.65 172.72,635.16 172.85,635.66 172.99,636.13 173.12,636.59 173.25,637.02 173.38,637.43 173.52,637.82 173.65,638.18 173.78,638.52 173.91,638.83 174.05,639.12 174.18,639.38 174.31,639.62 174.45,639.83 174.58,640.01 174.71,640.16 174.84,640.28 174.98,640.37 175.11,640.43 175.24,640.45 175.37,640.46 175.51,640.46 175.64,640.46 175.77,640.46 175.90,640.46 176.04,640.46 176.17,640.46 176.30,640.46 176.43,640.46 176.57,640.46 176.70,640.46 176.83,640.46 176.97,640.46 177.10,640.46 177.23,640.46 177.36,640.46 177.50,640.46 177.63,640.46 177.76,640.46 177.89,640.46 178.03,640.46 178.16,640.46 178.29,640.46 178.42,640.46 178.56,640.46 178.69,640.46 178.82,640.46 178.95,640.46 179.09,640.46 179.22,640.46 179.35,640.46 179.49,640.46 179.62,640.46 179.75,640.46 179.88,640.46 180.02,640.46 180.15,640.46 180.28,640.46 180.41,640.46 180.55,640.46 180.68,640.46 180.81,640.46 180.94,640.46 181.08,640.46 181.21,640.46 181.34,640.46 181.48,640.46 181.61,640.46 181.74,640.46 181.87,640.46 182.01,640.46 182.14,640.46 182.27,640.46 182.40,640.46 182.54,640.46 182.67,640.46 182.80,640.46 182.93,640.46 183.07,640.46 183.20,640.46 183.33,640.46 183.46,640.46 183.60,640.46 183.73,640.46 183.86,640.46 184.00,640.46 184.13,640.46" fill="none" stroke="#44379A" stroke-width="1.3" stroke-linejoin="round"/></g>
<g><rect x="338.20" y="542.90" width="153.40" height="101.50" fill="none" stroke="#000" stroke-width="1.7"/><line x1="329.70" y1="640.64" x2="338.20" y2="640.64" stroke="#000" stroke-width="1.7"/><text x="320.90" y="646.04" text-anchor="end" class="tl">0.0</text><line x1="329.70" y1="624.98" x2="338.20" y2="624.98" stroke="#000" stroke-width="1.7"/><text x="320.90" y="630.38" text-anchor="end" class="tl">0.2</text><line x1="329.70" y1="609.31" x2="338.20" y2="609.31" stroke="#000" stroke-width="1.7"/><text x="320.90" y="614.71" text-anchor="end" class="tl">0.4</text><line x1="329.70" y1="593.65" x2="338.20" y2="593.65" stroke="#000" stroke-width="1.7"/><text x="320.90" y="599.05" text-anchor="end" class="tl">0.6</text><line x1="329.70" y1="577.99" x2="338.20" y2="577.99" stroke="#000" stroke-width="1.7"/><text x="320.90" y="583.39" text-anchor="end" class="tl">0.8</text><line x1="329.70" y1="562.32" x2="338.20" y2="562.32" stroke="#000" stroke-width="1.7"/><text x="320.90" y="567.72" text-anchor="end" class="tl">1.0</text><line x1="329.70" y1="546.66" x2="338.20" y2="546.66" stroke="#000" stroke-width="1.7"/><text x="320.90" y="552.06" text-anchor="end" class="tl">1.2</text><line x1="343.88" y1="644.40" x2="343.88" y2="653.40" stroke="#000" stroke-width="1.7"/><text x="343.88" y="675.10" text-anchor="middle" class="tl">−4</text><line x1="379.39" y1="644.40" x2="379.39" y2="653.40" stroke="#000" stroke-width="1.7"/><text x="379.39" y="675.10" text-anchor="middle" class="tl">−2</text><line x1="414.90" y1="644.40" x2="414.90" y2="653.40" stroke="#000" stroke-width="1.7"/><text x="414.90" y="675.10" text-anchor="middle" class="tl">0</text><line x1="450.41" y1="644.40" x2="450.41" y2="653.40" stroke="#000" stroke-width="1.7"/><text x="450.41" y="675.10" text-anchor="middle" class="tl">2</text><line x1="485.92" y1="644.40" x2="485.92" y2="653.40" stroke="#000" stroke-width="1.7"/><text x="485.92" y="675.10" text-anchor="middle" class="tl">4</text><text transform="translate(283.70,593.95) rotate(-90)" text-anchor="middle" class="tl yl">K(x)</text><polyline clip-path="url(#c7)" points="388.27,640.64 388.40,640.64 388.53,640.64 388.67,640.64 388.80,640.64 388.93,640.64 389.07,640.64 389.20,640.64 389.33,640.64 389.47,640.64 389.60,640.64 389.73,640.64 389.87,640.64 390.00,640.64 390.13,640.64 390.27,640.64 390.40,640.64 390.53,640.64 390.66,640.64 390.80,640.64 390.93,640.64 391.06,640.64 391.20,640.64 391.33,640.64 391.46,640.64 391.60,640.64 391.73,640.64 391.86,640.64 392.00,640.64 392.13,640.64 392.26,640.64 392.40,640.64 392.53,640.64 392.66,640.64 392.80,640.64 392.93,640.64 393.06,640.64 393.19,640.64 393.33,640.64 393.46,640.64 393.59,640.64 393.73,640.64 393.86,640.64 393.99,640.64 394.13,640.64 394.26,640.64 394.39,640.64 394.53,640.64 394.66,640.64 394.79,640.64 394.93,640.64 395.06,640.64 395.19,640.64 395.33,640.64 395.46,640.64 395.59,640.64 395.73,640.64 395.86,640.64 395.99,640.64 396.12,640.64 396.26,640.64 396.39,640.64 396.52,640.64 396.66,640.64 396.79,640.64 396.92,640.64 397.06,640.64 397.19,640.40 397.32,639.67 397.46,638.95 397.59,638.23 397.72,637.50 397.86,636.78 397.99,636.06 398.12,635.33 398.26,634.61 398.39,633.89 398.52,633.17 398.65,632.45 398.79,631.73 398.92,631.02 399.05,630.30 399.19,629.59 399.32,628.88 399.45,628.17 399.59,627.46 399.72,626.75 399.85,626.05 399.99,625.34 400.12,624.64 400.25,623.94 400.39,623.25 400.52,622.55 400.65,621.86 400.79,621.17 400.92,620.49 401.05,619.80 401.18,619.12 401.32,618.45 401.45,617.77 401.58,617.10 401.72,616.43 401.85,615.77 401.98,615.11 402.12,614.45 402.25,613.80 402.38,613.15 402.52,612.50 402.65,611.86 402.78,611.22 402.92,610.59 403.05,609.96 403.18,609.33 403.32,608.71 403.45,608.09 403.58,607.48 403.71,606.87 403.85,606.27 403.98,605.67 404.11,605.07 404.25,604.49 404.38,603.90 404.51,603.32 404.65,602.75 404.78,602.18 404.91,601.62 405.05,601.06 405.18,600.51 405.31,599.96 405.45,599.42 405.58,598.89 405.71,598.36 405.85,597.83 405.98,597.32 406.11,596.81 406.24,596.30 406.38,595.80 406.51,595.31 406.64,594.82 406.78,594.34 406.91,593.87 407.04,593.40 407.18,592.94 407.31,592.49 407.44,592.04 407.58,591.60 407.71,591.16 407.84,590.74 407.98,590.32 408.11,589.90 408.24,589.50 408.38,589.10 408.51,588.71 408.64,588.32 408.77,587.94 408.91,587.57 409.04,587.21 409.17,586.86 409.31,586.51 409.44,586.17 409.57,585.83 409.71,585.51 409.84,585.19 409.97,584.88 410.11,584.58 410.24,584.29 410.37,584.00 410.51,583.72 410.64,583.45 410.77,583.19 410.91,582.93 411.04,582.69 411.17,582.45 411.30,582.22 411.44,581.99 411.57,581.78 411.70,581.57 411.84,581.37 411.97,581.18 412.10,581.00 412.24,580.83 412.37,580.66 412.50,580.51 412.64,580.36 412.77,580.22 412.90,580.09 413.04,579.96 413.17,579.85 413.30,579.74 413.44,579.65 413.57,579.56 413.70,579.48 413.83,579.40 413.97,579.34 414.10,579.28 414.23,579.24 414.37,579.20 414.50,579.17 414.63,579.15 414.77,579.13 414.90,579.13 415.03,579.13 415.17,579.15 415.30,579.17 415.43,579.20 415.57,579.24 415.70,579.28 415.83,579.34 415.97,579.40 416.10,579.48 416.23,579.56 416.36,579.65 416.50,579.74 416.63,579.85 416.76,579.96 416.90,580.09 417.03,580.22 417.16,580.36 417.30,580.51 417.43,580.66 417.56,580.83 417.70,581.00 417.83,581.18 417.96,581.37 418.10,581.57 418.23,581.78 418.36,581.99 418.50,582.22 418.63,582.45 418.76,582.69 418.89,582.93 419.03,583.19 419.16,583.45 419.29,583.72 419.43,584.00 419.56,584.29 419.69,584.58 419.83,584.88 419.96,585.19 420.09,585.51 420.23,585.83 420.36,586.17 420.49,586.51 420.63,586.86 420.76,587.21 420.89,587.57 421.03,587.94 421.16,588.32 421.29,588.71 421.42,589.10 421.56,589.50 421.69,589.90 421.82,590.32 421.96,590.74 422.09,591.16 422.22,591.60 422.36,592.04 422.49,592.49 422.62,592.94 422.76,593.40 422.89,593.87 423.02,594.34 423.16,594.82 423.29,595.31 423.42,595.80 423.56,596.30 423.69,596.81 423.82,597.32 423.95,597.83 424.09,598.36 424.22,598.89 424.35,599.42 424.49,599.96 424.62,600.51 424.75,601.06 424.89,601.62 425.02,602.18 425.15,602.75 425.29,603.32 425.42,603.90 425.55,604.49 425.69,605.07 425.82,605.67 425.95,606.27 426.09,606.87 426.22,607.48 426.35,608.09 426.48,608.71 426.62,609.33 426.75,609.96 426.88,610.59 427.02,611.22 427.15,611.86 427.28,612.50 427.42,613.15 427.55,613.80 427.68,614.45 427.82,615.11 427.95,615.77 428.08,616.43 428.22,617.10 428.35,617.77 428.48,618.45 428.62,619.12 428.75,619.80 428.88,620.49 429.01,621.17 429.15,621.86 429.28,622.55 429.41,623.25 429.55,623.94 429.68,624.64 429.81,625.34 429.95,626.05 430.08,626.75 430.21,627.46 430.35,628.17 430.48,628.88 430.61,629.59 430.75,630.30 430.88,631.02 431.01,631.73 431.15,632.45 431.28,633.17 431.41,633.89 431.54,634.61 431.68,635.33 431.81,636.06 431.94,636.78 432.08,637.50 432.21,638.23 432.34,638.95 432.48,639.67 432.61,640.40 432.74,640.64 432.88,640.64 433.01,640.64 433.14,640.64 433.28,640.64 433.41,640.64 433.54,640.64 433.68,640.64 433.81,640.64 433.94,640.64 434.08,640.64 434.21,640.64 434.34,640.64 434.47,640.64 434.61,640.64 434.74,640.64 434.87,640.64 435.01,640.64 435.14,640.64 435.27,640.64 435.41,640.64 435.54,640.64 435.67,640.64 435.81,640.64 435.94,640.64 436.07,640.64 436.21,640.64 436.34,640.64 436.47,640.64 436.61,640.64 436.74,640.64 436.87,640.64 437.00,640.64 437.14,640.64 437.27,640.64 437.40,640.64 437.54,640.64 437.67,640.64 437.80,640.64 437.94,640.64 438.07,640.64 438.20,640.64 438.34,640.64 438.47,640.64 438.60,640.64 438.74,640.64 438.87,640.64 439.00,640.64 439.14,640.64 439.27,640.64 439.40,640.64 439.53,640.64 439.67,640.64 439.80,640.64 439.93,640.64 440.07,640.64 440.20,640.64 440.33,640.64 440.47,640.64 440.60,640.64 440.73,640.64 440.87,640.64 441.00,640.64 441.13,640.64 441.27,640.64 441.40,640.64 441.53,640.64" fill="none" stroke="#44379A" stroke-width="1.3" stroke-linejoin="round" stroke-dasharray="4.65 4.66"/></g>
<g><rect x="595.20" y="543.40" width="152.20" height="100.90" fill="none" stroke="#000" stroke-width="1.7"/><line x1="586.70" y1="640.56" x2="595.20" y2="640.56" stroke="#000" stroke-width="1.7"/><text x="577.90" y="645.96" text-anchor="end" class="tl">0.0</text><line x1="586.70" y1="624.99" x2="595.20" y2="624.99" stroke="#000" stroke-width="1.7"/><text x="577.90" y="630.39" text-anchor="end" class="tl">0.2</text><line x1="586.70" y1="609.42" x2="595.20" y2="609.42" stroke="#000" stroke-width="1.7"/><text x="577.90" y="614.82" text-anchor="end" class="tl">0.4</text><line x1="586.70" y1="593.85" x2="595.20" y2="593.85" stroke="#000" stroke-width="1.7"/><text x="577.90" y="599.25" text-anchor="end" class="tl">0.6</text><line x1="586.70" y1="578.28" x2="595.20" y2="578.28" stroke="#000" stroke-width="1.7"/><text x="577.90" y="583.68" text-anchor="end" class="tl">0.8</text><line x1="586.70" y1="562.71" x2="595.20" y2="562.71" stroke="#000" stroke-width="1.7"/><text x="577.90" y="568.11" text-anchor="end" class="tl">1.0</text><line x1="586.70" y1="547.14" x2="595.20" y2="547.14" stroke="#000" stroke-width="1.7"/><text x="577.90" y="552.54" text-anchor="end" class="tl">1.2</text><line x1="600.84" y1="644.30" x2="600.84" y2="653.30" stroke="#000" stroke-width="1.7"/><text x="600.84" y="675.00" text-anchor="middle" class="tl">−4</text><line x1="636.07" y1="644.30" x2="636.07" y2="653.30" stroke="#000" stroke-width="1.7"/><text x="636.07" y="675.00" text-anchor="middle" class="tl">−2</text><line x1="671.30" y1="644.30" x2="671.30" y2="653.30" stroke="#000" stroke-width="1.7"/><text x="671.30" y="675.00" text-anchor="middle" class="tl">0</text><line x1="706.53" y1="644.30" x2="706.53" y2="653.30" stroke="#000" stroke-width="1.7"/><text x="706.53" y="675.00" text-anchor="middle" class="tl">2</text><line x1="741.76" y1="644.30" x2="741.76" y2="653.30" stroke="#000" stroke-width="1.7"/><text x="741.76" y="675.00" text-anchor="middle" class="tl">4</text><text transform="translate(540.70,594.15) rotate(-90)" text-anchor="middle" class="tl yl">K(x)</text><circle cx="602.3" cy="641.5" r="1.4" fill="#44379A"/><circle cx="613.2" cy="640.5" r="1.4" fill="#44379A"/><circle cx="623.6" cy="638.4" r="1.4" fill="#44379A"/><circle cx="633.5" cy="634.4" r="1.4" fill="#44379A"/><circle cx="642.8" cy="629.1" r="1.4" fill="#44379A"/><circle cx="651.7" cy="623.0" r="1.4" fill="#44379A"/><circle cx="660.5" cy="617.0" r="1.4" fill="#44379A"/><circle cx="670.6" cy="613.1" r="1.4" fill="#44379A"/><circle cx="680.5" cy="616.0" r="1.4" fill="#44379A"/><circle cx="689.6" cy="622.0" r="1.4" fill="#44379A"/><circle cx="698.2" cy="628.3" r="1.4" fill="#44379A"/><circle cx="707.7" cy="633.6" r="1.4" fill="#44379A"/><circle cx="717.6" cy="637.8" r="1.4" fill="#44379A"/><circle cx="727.9" cy="640.3" r="1.4" fill="#44379A"/><circle cx="738.5" cy="641.5" r="1.4" fill="#44379A"/></g>
<text x="65.7" y="24.0" class="tt" textLength="123.7" lengthAdjust="spacingAndGlyphs">Gaussian kernel</text>
<rect x="65.4" y="25.35" width="124.3" height="1.3" fill="#1a1a1a"/>
<text x="305.0" y="24.0" class="tt" textLength="161.1" lengthAdjust="spacingAndGlyphs">Epanechnikov kernel</text>
<rect x="304.7" y="25.35" width="161.7" height="1.3" fill="#1a1a1a"/>
<text x="583.3" y="24.0" class="tt" textLength="115.9" lengthAdjust="spacingAndGlyphs">Uniform kernel</text>
<rect x="583.0" y="25.35" width="116.5" height="1.3" fill="#1a1a1a"/>
<text x="62.5" y="250.8" class="tt" textLength="132.4" lengthAdjust="spacingAndGlyphs">Triangular kernel</text>
<rect x="62.2" y="252.45" width="133.0" height="1.3" fill="#1a1a1a"/>
<text x="322.6" y="250.8" class="tt" textLength="125.0" lengthAdjust="spacingAndGlyphs">Triweight kernel</text>
<rect x="322.3" y="252.45" width="125.6" height="1.3" fill="#1a1a1a"/>
<text x="587.0" y="250.8" class="tt" textLength="108.8" lengthAdjust="spacingAndGlyphs">Tricube kernel</text>
<rect x="586.7" y="252.45" width="109.4" height="1.3" fill="#1a1a1a"/>
<text x="68.6" y="479.8" class="tt" textLength="119.6" lengthAdjust="spacingAndGlyphs">Biweight kernel</text>
<rect x="68.3" y="481.75" width="120.2" height="1.3" fill="#1a1a1a"/>
<text x="330.5" y="479.8" class="tt" textLength="104.8" lengthAdjust="spacingAndGlyphs">Cosine kernel</text>
<rect x="330.2" y="481.75" width="105.4" height="1.3" fill="#1a1a1a"/>
<text x="576.1" y="479.8" class="tt" textLength="129.8" lengthAdjust="spacingAndGlyphs">Silverman kernel</text>
<rect x="575.8" y="481.75" width="130.4" height="1.3" fill="#1a1a1a"/>
<g fill="#483D8B" font-family='"Liberation Serif","DejaVu Serif",serif'>
<text transform="translate(60.59,60.60) scale(0.817,1)" font-size="18.5" stroke="#483D8B" stroke-width="0.18" stroke-linejoin="round"><tspan font-style="italic">K</tspan></text>
<text transform="translate(73.23,60.60) scale(1.141,1)" font-size="18.5" stroke="#483D8B" stroke-width="0.18" stroke-linejoin="round">(</text>
<text transform="translate(81.28,60.60) scale(1.000,1)" font-size="18.50" stroke="#483D8B" stroke-width="0.18" stroke-linejoin="round"><tspan font-style="italic">x</tspan></text>
<text transform="translate(90.11,60.60) scale(1.162,1)" font-size="18.5" stroke="#483D8B" stroke-width="0.18" stroke-linejoin="round">)</text>
<text transform="translate(102.93,60.60) scale(1.261,1)" font-size="18.5" stroke="#483D8B" stroke-width="0.18" stroke-linejoin="round">=</text>
<rect x="121.10" y="54.90" width="33.50" height="1.2"/>
<text transform="translate(133.55,46.40) scale(1.000,1)" font-size="18.50" stroke="#483D8B" stroke-width="0.18" stroke-linejoin="round">1</text>
<path d="M122.2,69.9 L123.6,69.0 L127.6,76.0 L133.6,59.8 L154.6,59.8" fill="none" stroke="#483D8B" stroke-width="1.1" stroke-linejoin="round" stroke-linecap="round"/>
<text transform="translate(134.15,75.00) scale(1.000,1)" font-size="18.50" stroke="#483D8B" stroke-width="0.18" stroke-linejoin="round">2</text>
<text transform="translate(143.90,75.00) scale(1.000,1)" font-size="18.50" stroke="#483D8B" stroke-width="0.18" stroke-linejoin="round"><tspan font-style="italic">π</tspan></text>
<text transform="translate(162.32,60.60) scale(1.000,1)" font-size="18.50" stroke="#483D8B" stroke-width="0.18" stroke-linejoin="round"><tspan font-style="italic">e</tspan></text>
<rect x="173.10" y="47.60" width="7.50" height="1.0"/>
<text transform="translate(182.23,44.18) scale(1.149,1)" font-size="12.09" stroke="#483D8B" stroke-width="0.12" stroke-linejoin="round">1</text>
<rect x="182.20" y="47.20" width="7.00" height="1.2"/>
<text transform="translate(182.85,58.08) scale(1.070,1)" font-size="12.09" stroke="#483D8B" stroke-width="0.12" stroke-linejoin="round">2</text>
<text transform="translate(190.47,51.78) scale(0.951,1)" font-size="15.08" stroke="#483D8B" stroke-width="0.15" stroke-linejoin="round"><tspan font-style="italic">x</tspan></text>
<text transform="translate(198.49,46.58) scale(1.266,1)" font-size="7.94" stroke="#483D8B" stroke-width="0.08" stroke-linejoin="round">2</text>
<text transform="translate(262.80,60.60) scale(0.826,1)" font-size="18.5" stroke="#483D8B" stroke-width="0.18" stroke-linejoin="round"><tspan font-style="italic">K</tspan></text>
<text transform="translate(275.57,60.60) scale(1.155,1)" font-size="18.5" stroke="#483D8B" stroke-width="0.18" stroke-linejoin="round">(</text>
<text transform="translate(283.75,60.60) scale(1.000,1)" font-size="18.50" stroke="#483D8B" stroke-width="0.18" stroke-linejoin="round"><tspan font-style="italic">x</tspan></text>
<text transform="translate(292.63,60.60) scale(1.176,1)" font-size="18.5" stroke="#483D8B" stroke-width="0.18" stroke-linejoin="round">)</text>
<text transform="translate(305.59,60.60) scale(1.276,1)" font-size="18.5" stroke="#483D8B" stroke-width="0.18" stroke-linejoin="round">=</text>
<rect x="324.50" y="54.60" width="10.90" height="1.2"/>
<text transform="translate(324.65,46.40) scale(1.000,1)" font-size="18.50" stroke="#483D8B" stroke-width="0.18" stroke-linejoin="round">3</text>
<text transform="translate(324.93,72.70) scale(1.000,1)" font-size="18.50" stroke="#483D8B" stroke-width="0.18" stroke-linejoin="round">4</text>
<text transform="translate(343.12,60.60) scale(1.162,1)" font-size="18.5" stroke="#483D8B" stroke-width="0.18" stroke-linejoin="round">(</text>
<text transform="translate(350.05,60.60) scale(1.000,1)" font-size="18.50" stroke="#483D8B" stroke-width="0.18" stroke-linejoin="round">1</text>
<rect x="364.90" y="55.05" width="12.00" height="1.1"/>
<text transform="translate(383.08,60.60) scale(1.000,1)" font-size="18.50" stroke="#483D8B" stroke-width="0.18" stroke-linejoin="round"><tspan font-style="italic">x</tspan></text>
<text transform="translate(393.76,53.48) scale(1.123,1)" font-size="12.17" stroke="#483D8B" stroke-width="0.12" stroke-linejoin="round">2</text>
<text transform="translate(401.88,60.60) scale(1.015,1)" font-size="18.5" stroke="#483D8B" stroke-width="0.18" stroke-linejoin="round">)</text>
<text transform="translate(408.77,60.60) scale(1.000,1)" font-size="18.50" stroke="#483D8B" stroke-width="0.18" stroke-linejoin="round">,</text>
<text transform="translate(434.23,60.40) scale(1.000,1)" font-size="18.50" stroke="#483D8B" stroke-width="0.18" stroke-linejoin="round"><tspan font-style="italic">i</tspan></text>
<text transform="translate(441.15,60.40) scale(1.000,1)" font-size="18.50" stroke="#483D8B" stroke-width="0.18" stroke-linejoin="round"><tspan font-style="italic">f</tspan></text>
<text transform="translate(455.66,60.40) scale(1.000,1)" font-size="18.50" stroke="#483D8B" stroke-width="0.18" stroke-linejoin="round">|</text>
<text transform="translate(461.32,60.40) scale(1.000,1)" font-size="18.50" stroke="#483D8B" stroke-width="0.18" stroke-linejoin="round"><tspan font-style="italic">x</tspan></text>
<text transform="translate(471.90,60.40) scale(1.000,1)" font-size="18.50" stroke="#483D8B" stroke-width="0.18" stroke-linejoin="round">|</text>
<text transform="translate(482.44,60.40) scale(1.270,1)" font-size="18.5" stroke="#483D8B" stroke-width="0.18" stroke-linejoin="round">≤</text>
<text transform="translate(501.05,60.40) scale(1.000,1)" font-size="18.50" stroke="#483D8B" stroke-width="0.18" stroke-linejoin="round">1</text>
<text transform="translate(565.50,59.70) scale(0.829,1)" font-size="18.5" stroke="#483D8B" stroke-width="0.18" stroke-linejoin="round"><tspan font-style="italic">K</tspan></text>
<text transform="translate(578.32,59.70) scale(1.160,1)" font-size="18.5" stroke="#483D8B" stroke-width="0.18" stroke-linejoin="round">(</text>
<text transform="translate(586.54,59.70) scale(1.000,1)" font-size="18.50" stroke="#483D8B" stroke-width="0.18" stroke-linejoin="round"><tspan font-style="italic">x</tspan></text>
<text transform="translate(595.44,59.70) scale(1.181,1)" font-size="18.5" stroke="#483D8B" stroke-width="0.18" stroke-linejoin="round">)</text>
<text transform="translate(608.44,59.70) scale(1.281,1)" font-size="18.5" stroke="#483D8B" stroke-width="0.18" stroke-linejoin="round">=</text>
<rect x="627.80" y="53.80" width="11.10" height="1.2"/>
<text transform="translate(628.00,45.60) scale(1.000,1)" font-size="18.50" stroke="#483D8B" stroke-width="0.18" stroke-linejoin="round">1</text>
<text transform="translate(628.30,71.90) scale(1.000,1)" font-size="18.50" stroke="#483D8B" stroke-width="0.18" stroke-linejoin="round">2</text>
<text transform="translate(644.67,59.70) scale(1.000,1)" font-size="18.50" stroke="#483D8B" stroke-width="0.18" stroke-linejoin="round">,</text>
<text transform="translate(657.55,59.40) scale(1.000,1)" font-size="18.50" stroke="#483D8B" stroke-width="0.18" stroke-linejoin="round"><tspan font-style="italic">i</tspan></text>
<text transform="translate(664.53,59.40) scale(1.000,1)" font-size="18.50" stroke="#483D8B" stroke-width="0.18" stroke-linejoin="round"><tspan font-style="italic">f</tspan></text>
<text transform="translate(679.14,59.40) scale(1.000,1)" font-size="18.50" stroke="#483D8B" stroke-width="0.18" stroke-linejoin="round">|</text>
<text transform="translate(684.86,59.40) scale(1.000,1)" font-size="18.50" stroke="#483D8B" stroke-width="0.18" stroke-linejoin="round"><tspan font-style="italic">x</tspan></text>
<text transform="translate(695.51,59.40) scale(1.000,1)" font-size="18.50" stroke="#483D8B" stroke-width="0.18" stroke-linejoin="round">|</text>
<text transform="translate(706.12,59.40) scale(1.280,1)" font-size="18.5" stroke="#483D8B" stroke-width="0.18" stroke-linejoin="round">≤</text>
<text transform="translate(724.92,59.40) scale(1.000,1)" font-size="18.50" stroke="#483D8B" stroke-width="0.18" stroke-linejoin="round">1</text>
<text transform="translate(14.11,285.20) scale(0.870,1)" font-size="18.5" stroke="#483D8B" stroke-width="0.18" stroke-linejoin="round"><tspan font-style="italic">K</tspan></text>
<text transform="translate(27.52,285.20) scale(1.221,1)" font-size="18.5" stroke="#483D8B" stroke-width="0.18" stroke-linejoin="round">(</text>
<text transform="translate(36.32,285.20) scale(1.000,1)" font-size="18.50" stroke="#483D8B" stroke-width="0.18" stroke-linejoin="round"><tspan font-style="italic">x</tspan></text>
<text transform="translate(45.43,285.20) scale(1.244,1)" font-size="18.5" stroke="#483D8B" stroke-width="0.18" stroke-linejoin="round">)</text>
<text transform="translate(59.04,285.20) scale(1.344,1)" font-size="18.5" stroke="#483D8B" stroke-width="0.18" stroke-linejoin="round">=</text>
<text transform="translate(80.62,285.20) scale(1.162,1)" font-size="18.5" stroke="#483D8B" stroke-width="0.18" stroke-linejoin="round">(</text>
<text transform="translate(88.05,285.20) scale(1.000,1)" font-size="18.50" stroke="#483D8B" stroke-width="0.18" stroke-linejoin="round">1</text>
<rect x="104.00" y="278.85" width="11.90" height="1.1"/>
<text transform="translate(123.12,285.20) scale(1.000,1)" font-size="18.50" stroke="#483D8B" stroke-width="0.18" stroke-linejoin="round">|</text>
<text transform="translate(129.18,285.20) scale(1.000,1)" font-size="18.50" stroke="#483D8B" stroke-width="0.18" stroke-linejoin="round"><tspan font-style="italic">x</tspan></text>
<text transform="translate(139.88,285.20) scale(1.000,1)" font-size="18.50" stroke="#483D8B" stroke-width="0.18" stroke-linejoin="round">|</text>
<text transform="translate(144.87,285.20) scale(1.036,1)" font-size="18.5" stroke="#483D8B" stroke-width="0.18" stroke-linejoin="round">)</text>
<text transform="translate(153.53,285.20) scale(1.000,1)" font-size="18.50" stroke="#483D8B" stroke-width="0.18" stroke-linejoin="round">,</text>
<text transform="translate(163.58,285.40) scale(1.000,1)" font-size="18.50" stroke="#483D8B" stroke-width="0.18" stroke-linejoin="round"><tspan font-style="italic">i</tspan></text>
<text transform="translate(171.04,285.40) scale(1.000,1)" font-size="18.50" stroke="#483D8B" stroke-width="0.18" stroke-linejoin="round"><tspan font-style="italic">f</tspan></text>
<text transform="translate(186.43,285.40) scale(1.000,1)" font-size="18.50" stroke="#483D8B" stroke-width="0.18" stroke-linejoin="round">|</text>
<text transform="translate(192.63,285.40) scale(1.000,1)" font-size="18.50" stroke="#483D8B" stroke-width="0.18" stroke-linejoin="round"><tspan font-style="italic">x</tspan></text>
<text transform="translate(203.80,285.40) scale(1.000,1)" font-size="18.50" stroke="#483D8B" stroke-width="0.18" stroke-linejoin="round">|</text>
<text transform="translate(214.92,285.40) scale(1.364,1)" font-size="18.5" stroke="#483D8B" stroke-width="0.18" stroke-linejoin="round">≤</text>
<text transform="translate(235.20,285.40) scale(1.000,1)" font-size="18.50" stroke="#483D8B" stroke-width="0.18" stroke-linejoin="round">1</text>
<text transform="translate(268.01,286.30) scale(0.865,1)" font-size="16.6" stroke="#483D8B" stroke-width="0.16" stroke-linejoin="round"><tspan font-style="italic">K</tspan></text>
<text transform="translate(280.05,286.30) scale(1.220,1)" font-size="16.6" stroke="#483D8B" stroke-width="0.16" stroke-linejoin="round">(</text>
<text transform="translate(288.09,286.30) scale(1.000,1)" font-size="16.60" stroke="#483D8B" stroke-width="0.16" stroke-linejoin="round"><tspan font-style="italic">x</tspan></text>
<text transform="translate(296.32,286.30) scale(1.243,1)" font-size="16.6" stroke="#483D8B" stroke-width="0.16" stroke-linejoin="round">)</text>
<text transform="translate(308.93,286.30) scale(1.327,1)" font-size="16.6" stroke="#483D8B" stroke-width="0.16" stroke-linejoin="round">=</text>
<rect x="325.90" y="280.65" width="18.90" height="1.1"/>
<text transform="translate(327.73,272.70) scale(1.000,1)" font-size="16.60" stroke="#483D8B" stroke-width="0.16" stroke-linejoin="round">35</text>
<text transform="translate(327.85,297.80) scale(1.000,1)" font-size="16.60" stroke="#483D8B" stroke-width="0.16" stroke-linejoin="round">32</text>
<text transform="translate(349.72,286.60) scale(1.158,1)" font-size="16.6" stroke="#483D8B" stroke-width="0.16" stroke-linejoin="round">(</text>
<text transform="translate(356.98,286.60) scale(1.000,1)" font-size="16.60" stroke="#483D8B" stroke-width="0.16" stroke-linejoin="round">1</text>
<rect x="370.40" y="281.00" width="10.40" height="1.0"/>
<text transform="translate(388.45,286.60) scale(1.000,1)" font-size="16.60" stroke="#483D8B" stroke-width="0.16" stroke-linejoin="round"><tspan font-style="italic">x</tspan></text>
<text transform="translate(397.67,280.70) scale(1.000,1)" font-size="11.62" stroke="#483D8B" stroke-width="0.11" stroke-linejoin="round">2</text>
<text transform="translate(405.07,286.60) scale(1.040,1)" font-size="16.6" stroke="#483D8B" stroke-width="0.16" stroke-linejoin="round">)</text>
<text transform="translate(412.73,279.60) scale(1.000,1)" font-size="11.62" stroke="#483D8B" stroke-width="0.11" stroke-linejoin="round">3</text>
<text transform="translate(420.23,286.60) scale(1.000,1)" font-size="16.60" stroke="#483D8B" stroke-width="0.16" stroke-linejoin="round">,</text>
<text transform="translate(431.66,286.50) scale(1.000,1)" font-size="16.60" stroke="#483D8B" stroke-width="0.16" stroke-linejoin="round"><tspan font-style="italic">i</tspan></text>
<text transform="translate(438.26,286.50) scale(1.000,1)" font-size="16.60" stroke="#483D8B" stroke-width="0.16" stroke-linejoin="round"><tspan font-style="italic">f</tspan></text>
<text transform="translate(451.94,286.50) scale(1.000,1)" font-size="16.60" stroke="#483D8B" stroke-width="0.16" stroke-linejoin="round">|</text>
<text transform="translate(457.29,286.50) scale(1.000,1)" font-size="16.60" stroke="#483D8B" stroke-width="0.16" stroke-linejoin="round"><tspan font-style="italic">x</tspan></text>
<text transform="translate(467.26,286.50) scale(1.000,1)" font-size="16.60" stroke="#483D8B" stroke-width="0.16" stroke-linejoin="round">|</text>
<text transform="translate(477.01,286.50) scale(1.308,1)" font-size="16.6" stroke="#483D8B" stroke-width="0.16" stroke-linejoin="round">≤</text>
<text transform="translate(494.97,286.50) scale(1.000,1)" font-size="16.60" stroke="#483D8B" stroke-width="0.16" stroke-linejoin="round">1</text>
<text transform="translate(521.01,284.70) scale(0.865,1)" font-size="16.6" stroke="#483D8B" stroke-width="0.16" stroke-linejoin="round"><tspan font-style="italic">K</tspan></text>
<text transform="translate(533.05,284.70) scale(1.220,1)" font-size="16.6" stroke="#483D8B" stroke-width="0.16" stroke-linejoin="round">(</text>
<text transform="translate(541.09,284.70) scale(1.000,1)" font-size="16.60" stroke="#483D8B" stroke-width="0.16" stroke-linejoin="round"><tspan font-style="italic">x</tspan></text>
<text transform="translate(549.32,284.70) scale(1.243,1)" font-size="16.6" stroke="#483D8B" stroke-width="0.16" stroke-linejoin="round">)</text>
<text transform="translate(561.93,284.70) scale(1.327,1)" font-size="16.6" stroke="#483D8B" stroke-width="0.16" stroke-linejoin="round">=</text>
<rect x="579.40" y="278.85" width="18.80" height="1.1"/>
<text transform="translate(581.05,271.20) scale(1.000,1)" font-size="16.60" stroke="#483D8B" stroke-width="0.16" stroke-linejoin="round">70</text>
<text transform="translate(580.88,296.00) scale(1.000,1)" font-size="16.60" stroke="#483D8B" stroke-width="0.16" stroke-linejoin="round">81</text>
<text transform="translate(602.86,284.50) scale(1.111,1)" font-size="16.6" stroke="#483D8B" stroke-width="0.16" stroke-linejoin="round">(</text>
<text transform="translate(609.62,284.50) scale(1.000,1)" font-size="16.60" stroke="#483D8B" stroke-width="0.16" stroke-linejoin="round">1</text>
<rect x="624.00" y="279.50" width="10.50" height="1.0"/>
<text transform="translate(640.73,284.50) scale(1.000,1)" font-size="16.60" stroke="#483D8B" stroke-width="0.16" stroke-linejoin="round">|</text>
<text transform="translate(646.45,284.50) scale(1.000,1)" font-size="16.60" stroke="#483D8B" stroke-width="0.16" stroke-linejoin="round"><tspan font-style="italic">x</tspan></text>
<text transform="translate(655.92,284.50) scale(1.000,1)" font-size="16.60" stroke="#483D8B" stroke-width="0.16" stroke-linejoin="round">|</text>
<text transform="translate(659.67,278.60) scale(1.000,1)" font-size="11.62" stroke="#483D8B" stroke-width="0.11" stroke-linejoin="round">3</text>
<text transform="translate(668.27,284.50) scale(1.040,1)" font-size="16.6" stroke="#483D8B" stroke-width="0.16" stroke-linejoin="round">)</text>
<text transform="translate(676.02,278.60) scale(1.000,1)" font-size="11.62" stroke="#483D8B" stroke-width="0.11" stroke-linejoin="round">3</text>
<text transform="translate(683.48,284.50) scale(1.000,1)" font-size="16.60" stroke="#483D8B" stroke-width="0.16" stroke-linejoin="round">,</text>
<text transform="translate(694.43,284.30) scale(1.000,1)" font-size="16.60" stroke="#483D8B" stroke-width="0.16" stroke-linejoin="round"><tspan font-style="italic">i</tspan></text>
<text transform="translate(700.91,284.30) scale(1.000,1)" font-size="16.60" stroke="#483D8B" stroke-width="0.16" stroke-linejoin="round"><tspan font-style="italic">f</tspan></text>
<text transform="translate(714.40,284.30) scale(1.000,1)" font-size="16.60" stroke="#483D8B" stroke-width="0.16" stroke-linejoin="round">|</text>
<text transform="translate(719.65,284.30) scale(1.000,1)" font-size="16.60" stroke="#483D8B" stroke-width="0.16" stroke-linejoin="round"><tspan font-style="italic">x</tspan></text>
<text transform="translate(729.49,284.30) scale(1.000,1)" font-size="16.60" stroke="#483D8B" stroke-width="0.16" stroke-linejoin="round">|</text>
<text transform="translate(739.12,284.30) scale(1.286,1)" font-size="16.6" stroke="#483D8B" stroke-width="0.16" stroke-linejoin="round">≤</text>
<text transform="translate(756.73,284.30) scale(1.000,1)" font-size="16.60" stroke="#483D8B" stroke-width="0.16" stroke-linejoin="round">1</text>
<text transform="translate(12.01,514.80) scale(0.884,1)" font-size="16.6" stroke="#483D8B" stroke-width="0.16" stroke-linejoin="round"><tspan font-style="italic">K</tspan></text>
<text transform="translate(24.31,514.80) scale(1.249,1)" font-size="16.6" stroke="#483D8B" stroke-width="0.16" stroke-linejoin="round">(</text>
<text transform="translate(32.60,514.80) scale(1.000,1)" font-size="16.60" stroke="#483D8B" stroke-width="0.16" stroke-linejoin="round"><tspan font-style="italic">x</tspan></text>
<text transform="translate(40.91,514.80) scale(1.272,1)" font-size="16.6" stroke="#483D8B" stroke-width="0.16" stroke-linejoin="round">)</text>
<text transform="translate(53.78,514.80) scale(1.356,1)" font-size="16.6" stroke="#483D8B" stroke-width="0.16" stroke-linejoin="round">=</text>
<rect x="71.50" y="508.95" width="19.30" height="1.1"/>
<text transform="translate(72.95,501.60) scale(1.000,1)" font-size="16.60" stroke="#483D8B" stroke-width="0.16" stroke-linejoin="round">15</text>
<text transform="translate(72.95,526.40) scale(1.000,1)" font-size="16.60" stroke="#483D8B" stroke-width="0.16" stroke-linejoin="round">16</text>
<text transform="translate(95.02,515.00) scale(1.299,1)" font-size="16.6" stroke="#483D8B" stroke-width="0.16" stroke-linejoin="round">(</text>
<text transform="translate(102.43,515.00) scale(1.000,1)" font-size="16.60" stroke="#483D8B" stroke-width="0.16" stroke-linejoin="round">1</text>
<rect x="116.40" y="509.00" width="10.40" height="1.0"/>
<text transform="translate(134.70,515.00) scale(1.000,1)" font-size="16.60" stroke="#483D8B" stroke-width="0.16" stroke-linejoin="round"><tspan font-style="italic">x</tspan></text>
<text transform="translate(143.97,508.70) scale(1.000,1)" font-size="11.62" stroke="#483D8B" stroke-width="0.11" stroke-linejoin="round">2</text>
<text transform="translate(151.07,515.00) scale(1.040,1)" font-size="16.6" stroke="#483D8B" stroke-width="0.16" stroke-linejoin="round">)</text>
<text transform="translate(158.72,507.60) scale(1.000,1)" font-size="11.62" stroke="#483D8B" stroke-width="0.11" stroke-linejoin="round">2</text>
<text transform="translate(166.48,515.00) scale(1.000,1)" font-size="16.60" stroke="#483D8B" stroke-width="0.16" stroke-linejoin="round">,</text>
<text transform="translate(177.07,514.90) scale(1.000,1)" font-size="16.60" stroke="#483D8B" stroke-width="0.16" stroke-linejoin="round"><tspan font-style="italic">i</tspan></text>
<text transform="translate(183.69,514.90) scale(1.000,1)" font-size="16.60" stroke="#483D8B" stroke-width="0.16" stroke-linejoin="round"><tspan font-style="italic">f</tspan></text>
<text transform="translate(197.40,514.90) scale(1.000,1)" font-size="16.60" stroke="#483D8B" stroke-width="0.16" stroke-linejoin="round">|</text>
<text transform="translate(202.77,514.90) scale(1.000,1)" font-size="16.60" stroke="#483D8B" stroke-width="0.16" stroke-linejoin="round"><tspan font-style="italic">x</tspan></text>
<text transform="translate(212.76,514.90) scale(1.000,1)" font-size="16.60" stroke="#483D8B" stroke-width="0.16" stroke-linejoin="round">|</text>
<text transform="translate(222.54,514.90) scale(1.312,1)" font-size="16.6" stroke="#483D8B" stroke-width="0.16" stroke-linejoin="round">≤</text>
<text transform="translate(240.56,514.90) scale(1.000,1)" font-size="16.60" stroke="#483D8B" stroke-width="0.16" stroke-linejoin="round">1</text>
<text transform="translate(273.61,514.80) scale(0.896,1)" font-size="16.6" stroke="#483D8B" stroke-width="0.16" stroke-linejoin="round"><tspan font-style="italic">K</tspan></text>
<text transform="translate(286.07,514.80) scale(1.267,1)" font-size="16.6" stroke="#483D8B" stroke-width="0.16" stroke-linejoin="round">(</text>
<text transform="translate(294.51,514.80) scale(1.000,1)" font-size="16.60" stroke="#483D8B" stroke-width="0.16" stroke-linejoin="round"><tspan font-style="italic">x</tspan></text>
<text transform="translate(302.88,514.80) scale(1.291,1)" font-size="16.6" stroke="#483D8B" stroke-width="0.16" stroke-linejoin="round">)</text>
<text transform="translate(315.92,514.80) scale(1.375,1)" font-size="16.6" stroke="#483D8B" stroke-width="0.16" stroke-linejoin="round">=</text>
<rect x="333.90" y="509.55" width="11.10" height="1.1"/>
<text transform="translate(335.43,501.50) scale(1.000,1)" font-size="16.60" stroke="#483D8B" stroke-width="0.16" stroke-linejoin="round"><tspan font-style="italic">π</tspan></text>
<text transform="translate(335.93,527.20) scale(1.000,1)" font-size="16.60" stroke="#483D8B" stroke-width="0.16" stroke-linejoin="round">4</text>
<text transform="translate(349.18,514.80) scale(1.080,1)" font-size="16.6" stroke="#483D8B" stroke-width="0.16" stroke-linejoin="round" letter-spacing="0.24">cos</text>
<text transform="translate(375.21,514.80) scale(1.040,1)" font-size="16.6" stroke="#483D8B" stroke-width="0.16" stroke-linejoin="round">(</text>
<rect x="384.20" y="509.35" width="10.90" height="1.1"/>
<text transform="translate(385.68,501.60) scale(1.000,1)" font-size="16.60" stroke="#483D8B" stroke-width="0.16" stroke-linejoin="round"><tspan font-style="italic">π</tspan></text>
<text transform="translate(385.67,527.20) scale(1.000,1)" font-size="16.60" stroke="#483D8B" stroke-width="0.16" stroke-linejoin="round">2</text>
<text transform="translate(400.10,514.80) scale(1.000,1)" font-size="16.60" stroke="#483D8B" stroke-width="0.16" stroke-linejoin="round"><tspan font-style="italic">x</tspan></text>
<text transform="translate(409.63,514.80) scale(1.111,1)" font-size="16.6" stroke="#483D8B" stroke-width="0.16" stroke-linejoin="round">)</text>
<text transform="translate(416.68,514.80) scale(1.000,1)" font-size="16.60" stroke="#483D8B" stroke-width="0.16" stroke-linejoin="round">,</text>
<text transform="translate(426.65,515.20) scale(1.000,1)" font-size="16.60" stroke="#483D8B" stroke-width="0.16" stroke-linejoin="round"><tspan font-style="italic">i</tspan></text>
<text transform="translate(433.58,515.20) scale(1.000,1)" font-size="16.60" stroke="#483D8B" stroke-width="0.16" stroke-linejoin="round"><tspan font-style="italic">f</tspan></text>
<text transform="translate(447.78,515.20) scale(1.000,1)" font-size="16.60" stroke="#483D8B" stroke-width="0.16" stroke-linejoin="round">|</text>
<text transform="translate(453.45,515.20) scale(1.000,1)" font-size="16.60" stroke="#483D8B" stroke-width="0.16" stroke-linejoin="round"><tspan font-style="italic">x</tspan></text>
<text transform="translate(463.77,515.20) scale(1.000,1)" font-size="16.60" stroke="#483D8B" stroke-width="0.16" stroke-linejoin="round">|</text>
<text transform="translate(473.86,515.20) scale(1.370,1)" font-size="16.6" stroke="#483D8B" stroke-width="0.16" stroke-linejoin="round">≤</text>
<text transform="translate(492.83,515.20) scale(1.000,1)" font-size="16.60" stroke="#483D8B" stroke-width="0.16" stroke-linejoin="round">1</text>
<text transform="translate(540.09,516.60) scale(0.814,1)" font-size="16.6" stroke="#483D8B" stroke-width="0.16" stroke-linejoin="round"><tspan font-style="italic">K</tspan></text>
<text transform="translate(551.49,516.60) scale(1.143,1)" font-size="16.6" stroke="#483D8B" stroke-width="0.16" stroke-linejoin="round">(</text>
<text transform="translate(558.88,516.60) scale(1.000,1)" font-size="16.60" stroke="#483D8B" stroke-width="0.16" stroke-linejoin="round"><tspan font-style="italic">x</tspan></text>
<text transform="translate(566.87,516.60) scale(1.165,1)" font-size="16.6" stroke="#483D8B" stroke-width="0.16" stroke-linejoin="round">)</text>
<text transform="translate(578.79,516.60) scale(1.249,1)" font-size="16.6" stroke="#483D8B" stroke-width="0.16" stroke-linejoin="round">=</text>
<rect x="595.10" y="510.75" width="9.40" height="1.1"/>
<text transform="translate(596.18,503.98) scale(0.936,1)" font-size="15.48" stroke="#483D8B" stroke-width="0.15" stroke-linejoin="round">1</text>
<text transform="translate(596.35,527.38) scale(0.910,1)" font-size="17.90" stroke="#483D8B" stroke-width="0.17" stroke-linejoin="round">2</text>
<text transform="translate(607.75,516.60) scale(1.000,1)" font-size="16.60" stroke="#483D8B" stroke-width="0.16" stroke-linejoin="round"><tspan font-style="italic">e</tspan></text>
<rect x="617.70" y="500.35" width="7.00" height="0.9"/>
<text transform="translate(626.65,497.55) scale(0.634,1)" font-size="12.12" stroke="#483D8B" stroke-width="0.12" stroke-linejoin="round">|</text>
<text transform="translate(629.92,497.90) scale(1.000,1)" font-size="12.50" stroke="#483D8B" stroke-width="0.12" stroke-linejoin="round"><tspan font-style="italic">x</tspan></text>
<text transform="translate(637.35,497.55) scale(1.029,1)" font-size="12.12" stroke="#483D8B" stroke-width="0.12" stroke-linejoin="round">|</text>
<rect x="626.30" y="500.35" width="14.40" height="0.9"/>
<path d="M626.4,509.6 L627.5,509.0 L629.4,514.2 L632.6,503.5 L640.7,503.5" fill="none" stroke="#483D8B" stroke-width="0.9" stroke-linejoin="round" stroke-linecap="round"/>
<text transform="translate(633.53,513.38) scale(1.070,1)" font-size="11.47" stroke="#483D8B" stroke-width="0.11" stroke-linejoin="round">2</text>
<circle cx="650.8" cy="512.2" r="0.85"/>
<text transform="translate(656.61,516.60) scale(1.042,1)" font-size="16.6" stroke="#483D8B" stroke-width="0.16" stroke-linejoin="round">sin</text>
<path d="M689.3,491.3 C682.8,497.5 682.0,505 682.0,512 C682.0,519 682.8,526.6 689.3,532.6" fill="none" stroke="#483D8B" stroke-width="1.25" stroke-linejoin="round" stroke-linecap="round"/>
<text transform="translate(690.92,503.21) scale(1.134,1)" font-size="16.00" stroke="#483D8B" stroke-width="0.16" stroke-linejoin="round">|</text>
<text transform="translate(696.20,504.20) scale(1.000,1)" font-size="16.60" stroke="#483D8B" stroke-width="0.16" stroke-linejoin="round"><tspan font-style="italic">x</tspan></text>
<text transform="translate(705.32,503.21) scale(1.134,1)" font-size="16.00" stroke="#483D8B" stroke-width="0.16" stroke-linejoin="round">|</text>
<rect x="690.40" y="511.25" width="20.50" height="1.1"/>
<path d="M690.6,525.6 L692.2,524.7 L695.8,531.0 L701.3,515.8 L710.9,515.8" fill="none" stroke="#483D8B" stroke-width="1.1" stroke-linejoin="round" stroke-linecap="round"/>
<text transform="translate(701.78,529.58) scale(0.913,1)" font-size="17.29" stroke="#483D8B" stroke-width="0.17" stroke-linejoin="round">2</text>
<text transform="translate(714.50,518.79) scale(0.985,1)" font-size="20.05" stroke="#483D8B" stroke-width="0.20" stroke-linejoin="round">+</text>
<text transform="translate(730.38,503.40) scale(1.000,1)" font-size="16.60" stroke="#483D8B" stroke-width="0.16" stroke-linejoin="round"><tspan font-style="italic">π</tspan></text>
<rect x="730.30" y="511.25" width="9.20" height="1.1"/>
<text transform="translate(731.27,527.58) scale(0.943,1)" font-size="15.48" stroke="#483D8B" stroke-width="0.15" stroke-linejoin="round">4</text>
<path d="M740.9,491.3 C747.4,497.5 748.2,505 748.2,512 C748.2,519 747.4,526.6 740.9,532.6" fill="none" stroke="#483D8B" stroke-width="1.25" stroke-linejoin="round" stroke-linecap="round"/>
</g>
</svg>

</body></html>
